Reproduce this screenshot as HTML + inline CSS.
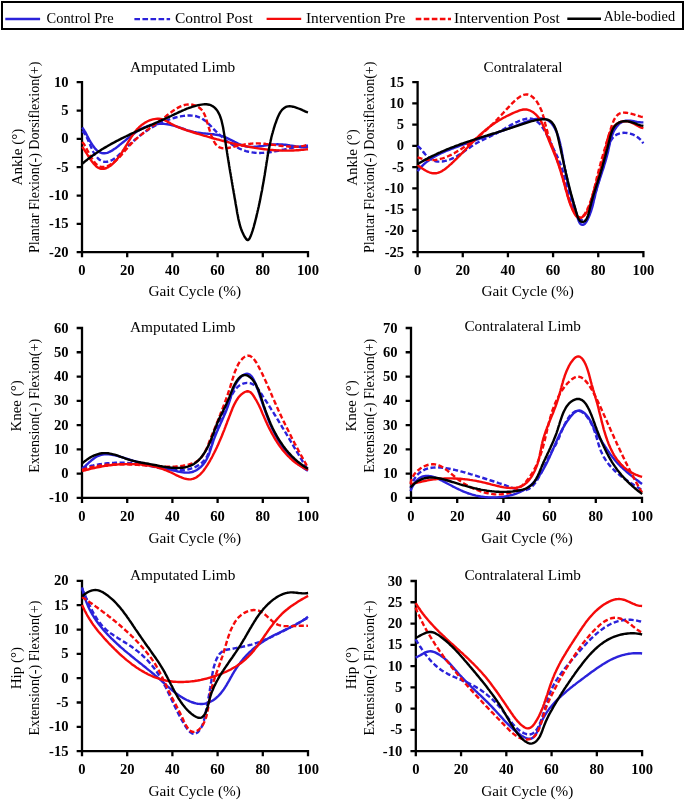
<!DOCTYPE html>
<html><head><meta charset="utf-8"><title>Gait kinematics</title>
<style>
html,body{margin:0;padding:0;background:#fff;}
body{width:685px;height:800px;overflow:hidden;font-family:"Liberation Serif",serif;}
svg{display:block;will-change:transform;}
</style></head><body>
<svg width="685" height="800" viewBox="0 0 685 800" font-family="Liberation Serif, serif" fill="#000">
<g><text x="129.9" y="71.8" font-size="15.3" textLength="105.4" lengthAdjust="spacingAndGlyphs">Amputated Limb</text>
<text x="148.4" y="296.4" font-size="15.3" textLength="92.8" lengthAdjust="spacingAndGlyphs">Gait Cycle (%)</text>
<text transform="translate(21.5,185.5) rotate(-90)" font-size="15.3" textLength="56.8" lengthAdjust="spacingAndGlyphs">Ankle (°)</text>
<text transform="translate(38.9,253.1) rotate(-90)" font-size="14" textLength="191.5" lengthAdjust="spacingAndGlyphs">Plantar Flexion(-) Dorsiflexion(+)</text>
<path d="M82,82.2 V252.2 M82,252.2 H308 M77.8,82.20 H82 M77.8,110.53 H82 M77.8,138.87 H82 M77.8,167.20 H82 M77.8,195.53 H82 M77.8,223.87 H82 M77.8,252.20 H82 M82.00,252.2 V256.2 M127.20,252.2 V256.2 M172.40,252.2 V256.2 M217.60,252.2 V256.2 M262.80,252.2 V256.2 M308.00,252.2 V256.2" stroke="#000" stroke-width="2.3" fill="none" stroke-linecap="square"/>
<g font-size="14.6" font-weight="bold"><text x="68.5" y="86.7" text-anchor="end">10</text><text x="68.5" y="115.0" text-anchor="end">5</text><text x="68.5" y="143.4" text-anchor="end">0</text><text x="68.5" y="171.7" text-anchor="end">-5</text><text x="68.5" y="200.0" text-anchor="end">-10</text><text x="68.5" y="228.4" text-anchor="end">-15</text><text x="68.5" y="256.7" text-anchor="end">-20</text><text x="82.00" y="274.8" text-anchor="middle">0</text><text x="127.20" y="274.8" text-anchor="middle">20</text><text x="172.40" y="274.8" text-anchor="middle">40</text><text x="217.60" y="274.8" text-anchor="middle">60</text><text x="262.80" y="274.8" text-anchor="middle">80</text><text x="308.00" y="274.8" text-anchor="middle">100</text></g>
<path d="M82.2,127.5L83.1,128.8 84.0,130.0 84.8,131.4 85.6,132.7 86.3,134.1 87.0,135.5 87.8,136.9 88.5,138.4 89.3,139.9 90.2,141.4 91.1,143.0 92.1,144.5 93.2,146.1 94.3,147.5 95.4,148.9 96.6,150.1 97.9,151.2 99.2,152.0 100.5,152.7 101.8,153.1 103.1,153.3 104.5,153.3 105.9,153.1 107.2,152.8 108.6,152.3 110.0,151.6 111.4,150.9 112.8,150.1 114.2,149.1 115.6,148.2 117.0,147.1 118.4,146.0 119.7,144.9 121.1,143.8 122.4,142.7 123.7,141.7 125.1,140.6 126.4,139.5 127.7,138.4 129.0,137.4 130.3,136.4 131.5,135.4 132.8,134.4 134.2,133.4 135.5,132.5 136.8,131.6 138.1,130.7 139.5,129.9 140.9,129.1 142.2,128.4 143.7,127.7 145.1,127.1 146.5,126.5 148.0,125.9 149.6,125.5 151.1,125.0 152.7,124.7 154.3,124.4 155.9,124.2 157.5,124.0 159.2,123.9 160.8,123.8 162.5,123.9 164.1,123.9 165.8,124.1 167.4,124.3 169.0,124.6 170.6,124.9 172.2,125.3 173.7,125.7 175.3,126.1 176.8,126.6 178.4,127.1 179.9,127.6 181.4,128.2 183.0,128.7 184.5,129.2 186.0,129.8 187.6,130.3 189.1,130.7 190.7,131.2 192.2,131.6 193.8,132.0 195.4,132.3 197.0,132.6 198.6,132.8 200.2,133.0 201.8,133.2 203.4,133.4 205.0,133.5 206.6,133.6 208.2,133.8 209.8,133.9 211.5,134.1 213.1,134.2 214.7,134.5 216.3,134.7 217.9,135.0 219.5,135.4 221.0,135.8 222.6,136.2 224.1,136.8 225.6,137.4 227.2,138.1 228.7,138.8 230.2,139.6 231.7,140.3 233.2,141.1 234.6,141.9 236.1,142.6 237.6,143.4 239.1,144.1 240.6,144.7 242.2,145.3 243.7,145.8 245.2,146.2 246.8,146.5 248.4,146.7 250.0,146.9 251.6,146.9 253.2,146.9 254.8,146.8 256.4,146.7 258.1,146.5 259.7,146.3 261.3,146.1 263.0,145.9 264.6,145.6 266.3,145.4 267.9,145.1 269.5,144.9 271.1,144.7 272.8,144.5 274.4,144.4 275.9,144.4 277.5,144.3 279.1,144.4 280.7,144.4 282.3,144.5 283.8,144.7 285.4,144.8 287.0,145.0 288.5,145.2 290.1,145.5 291.7,145.7 293.3,146.0 294.9,146.3 296.6,146.6 298.2,146.9 299.8,147.1 301.5,147.3 303.1,147.4 304.8,147.4 306.4,147.2 308.0,146.9" stroke="#2B22DA" stroke-width="2.4" fill="none" stroke-linejoin="round"/>
<path d="M82.2,131.0L83.2,131.9 84.1,132.9 84.9,134.0 85.7,135.3 86.5,136.8 87.2,138.3 88.0,139.9 88.7,141.5 89.4,143.2 90.1,144.9 90.8,146.6 91.6,148.3 92.4,150.0 93.2,151.7 94.0,153.2 95.0,154.7 95.9,156.1 97.0,157.3 98.1,158.5 99.2,159.5 100.4,160.3 101.6,161.0 102.9,161.5 104.3,161.8 105.6,161.9 107.0,161.8 108.4,161.5 109.8,161.0 111.2,160.5 112.6,159.7 114.0,158.9 115.3,157.9 116.6,156.9 117.9,155.8 119.2,154.6 120.5,153.4 121.7,152.1 123.0,150.9 124.2,149.7 125.5,148.5 126.7,147.3 127.9,146.1 129.2,144.9 130.4,143.8 131.6,142.7 132.9,141.6 134.1,140.5 135.3,139.4 136.6,138.4 137.8,137.4 139.1,136.4 140.3,135.4 141.6,134.4 142.8,133.5 144.1,132.6 145.4,131.6 146.7,130.8 148.0,129.9 149.3,129.1 150.6,128.2 151.9,127.4 153.3,126.6 154.6,125.9 156.0,125.1 157.4,124.4 158.8,123.7 160.2,123.1 161.6,122.4 163.1,121.8 164.6,121.2 166.1,120.6 167.6,120.0 169.1,119.5 170.7,118.9 172.2,118.4 173.9,118.0 175.5,117.5 177.1,117.1 178.8,116.7 180.4,116.4 182.1,116.1 183.7,115.9 185.4,115.7 187.0,115.6 188.7,115.5 190.3,115.5 191.9,115.6 193.4,115.8 195.0,116.0 196.5,116.3 198.0,116.8 199.4,117.3 200.8,117.9 202.1,118.6 203.4,119.5 204.7,120.4 205.9,121.3 207.1,122.4 208.3,123.5 209.4,124.6 210.6,125.8 211.7,127.0 212.9,128.2 214.0,129.4 215.2,130.6 216.4,131.8 217.6,133.0 218.8,134.1 220.0,135.2 221.3,136.4 222.5,137.4 223.8,138.5 225.1,139.6 226.4,140.6 227.7,141.6 229.0,142.5 230.3,143.4 231.7,144.3 233.1,145.2 234.5,146.0 235.8,146.8 237.3,147.5 238.7,148.2 240.1,148.9 241.6,149.5 243.0,150.1 244.5,150.6 246.0,151.1 247.5,151.5 249.0,151.9 250.6,152.2 252.1,152.4 253.7,152.6 255.2,152.8 256.8,152.9 258.4,153.0 260.0,153.0 261.6,152.9 263.2,152.9 264.9,152.7 266.5,152.6 268.1,152.4 269.8,152.2 271.4,152.0 273.1,151.7 274.7,151.4 276.4,151.1 278.0,150.8 279.6,150.5 281.3,150.1 282.9,149.8 284.6,149.4 286.2,149.1 287.8,148.8 289.4,148.4 291.0,148.1 292.6,147.8 294.2,147.4 295.8,147.2 297.4,146.9 298.9,146.6 300.5,146.4 302.0,146.2 303.5,146.0 305.0,145.9 306.5,145.8 308.0,145.7" stroke="#2B22DA" stroke-width="2.4" fill="none" stroke-linejoin="round" stroke-dasharray="5.1 2.5"/>
<path d="M82.2,146.9L83.0,147.8 83.7,148.9 84.6,150.2 85.4,151.5 86.4,153.0 87.3,154.5 88.3,156.1 89.3,157.7 90.4,159.3 91.5,160.9 92.6,162.3 93.7,163.7 94.9,165.0 96.1,166.2 97.4,167.2 98.6,167.9 99.9,168.5 101.2,168.8 102.5,168.9 103.8,168.8 105.1,168.5 106.5,168.0 107.8,167.4 109.1,166.6 110.4,165.7 111.7,164.7 112.9,163.6 114.1,162.4 115.3,161.2 116.5,159.8 117.6,158.5 118.6,157.1 119.7,155.8 120.7,154.4 121.6,153.0 122.5,151.5 123.4,150.1 124.3,148.7 125.2,147.2 126.0,145.8 126.9,144.4 127.7,143.0 128.5,141.6 129.4,140.2 130.2,138.8 131.1,137.4 132.0,136.1 132.9,134.7 133.8,133.4 134.7,132.2 135.7,130.9 136.7,129.7 137.8,128.6 138.9,127.5 140.1,126.4 141.3,125.3 142.5,124.4 143.9,123.4 145.2,122.6 146.7,121.8 148.1,121.0 149.6,120.4 151.2,119.8 152.7,119.4 154.3,119.1 155.8,118.9 157.4,118.8 159.0,118.8 160.6,119.0 162.1,119.4 163.7,119.9 165.2,120.5 166.7,121.3 168.2,122.1 169.7,122.9 171.1,123.7 172.6,124.5 174.1,125.3 175.6,126.0 177.1,126.7 178.6,127.3 180.1,127.9 181.6,128.5 183.1,129.0 184.6,129.5 186.1,130.1 187.6,130.6 189.1,131.1 190.7,131.5 192.2,132.0 193.7,132.5 195.3,133.0 196.8,133.5 198.3,133.9 199.9,134.4 201.4,134.9 203.0,135.3 204.5,135.8 206.1,136.2 207.6,136.7 209.2,137.1 210.8,137.6 212.3,138.0 213.9,138.5 215.5,138.9 217.0,139.3 218.6,139.7 220.2,140.2 221.7,140.6 223.3,141.0 224.9,141.4 226.4,141.8 228.0,142.2 229.6,142.6 231.1,143.0 232.7,143.4 234.3,143.7 235.9,144.1 237.4,144.5 239.0,144.8 240.6,145.1 242.2,145.5 243.8,145.8 245.3,146.1 246.9,146.4 248.5,146.8 250.1,147.0 251.7,147.3 253.3,147.6 254.9,147.9 256.4,148.1 258.0,148.4 259.6,148.6 261.2,148.8 262.8,149.0 264.4,149.2 266.0,149.4 267.6,149.6 269.2,149.8 270.8,149.9 272.4,150.0 274.0,150.2 275.6,150.3 277.2,150.4 278.8,150.4 280.4,150.5 282.0,150.6 283.7,150.6 285.3,150.6 286.9,150.6 288.5,150.6 290.1,150.6 291.7,150.5 293.4,150.5 295.0,150.4 296.6,150.3 298.2,150.2 299.9,150.1 301.5,149.9 303.1,149.8 304.7,149.6 306.4,149.4 308.0,149.2" stroke="#F50A0A" stroke-width="2.4" fill="none" stroke-linejoin="round"/>
<path d="M82.2,141.9L83.0,142.9 83.9,144.0 84.7,145.3 85.5,146.6 86.3,148.1 87.1,149.7 87.9,151.2 88.8,152.9 89.6,154.5 90.5,156.1 91.4,157.7 92.4,159.2 93.3,160.7 94.4,162.1 95.4,163.3 96.5,164.4 97.7,165.3 98.9,166.1 100.1,166.6 101.4,166.9 102.8,167.0 104.2,166.9 105.7,166.6 107.2,166.1 108.7,165.5 110.1,164.7 111.6,163.8 113.1,162.8 114.5,161.7 115.9,160.6 117.2,159.4 118.5,158.2 119.7,156.9 120.8,155.7 121.9,154.4 123.0,153.1 124.1,151.9 125.1,150.6 126.1,149.4 127.2,148.1 128.2,146.9 129.3,145.7 130.4,144.6 131.5,143.4 132.6,142.3 133.7,141.2 134.9,140.2 136.0,139.1 137.2,138.1 138.4,137.1 139.6,136.1 140.8,135.1 142.0,134.1 143.2,133.1 144.5,132.2 145.7,131.2 147.0,130.2 148.3,129.3 149.5,128.4 150.8,127.4 152.1,126.5 153.4,125.5 154.7,124.6 156.0,123.6 157.4,122.6 158.7,121.7 160.0,120.7 161.3,119.7 162.7,118.7 164.0,117.7 165.4,116.7 166.7,115.6 168.1,114.6 169.4,113.5 170.8,112.5 172.1,111.5 173.5,110.5 174.9,109.6 176.3,108.7 177.7,107.9 179.1,107.1 180.6,106.4 182.0,105.8 183.5,105.3 184.9,104.9 186.4,104.6 187.9,104.5 189.5,104.4 191.0,104.5 192.5,104.8 194.0,105.1 195.5,105.6 197.0,106.3 198.3,107.0 199.6,107.9 200.8,109.0 201.9,110.1 202.9,111.4 203.7,112.8 204.4,114.3 205.1,115.8 205.7,117.4 206.2,119.0 206.7,120.6 207.1,122.2 207.6,123.7 208.0,125.2 208.5,126.7 209.0,128.2 209.4,129.7 209.9,131.2 210.5,132.8 211.0,134.4 211.6,136.1 212.3,137.8 213.0,139.5 213.8,141.2 214.7,142.7 215.6,144.1 216.7,145.3 217.8,146.3 219.0,147.1 220.3,147.7 221.7,148.0 223.2,148.2 224.7,148.2 226.2,148.2 227.8,148.0 229.5,147.7 231.1,147.4 232.8,147.0 234.4,146.6 236.0,146.2 237.7,145.9 239.3,145.5 240.9,145.2 242.4,144.9 244.0,144.6 245.6,144.3 247.1,144.1 248.7,143.9 250.2,143.8 251.8,143.6 253.3,143.5 254.9,143.5 256.5,143.4 258.0,143.4 259.6,143.5 261.2,143.6 262.8,143.7 264.4,143.8 266.0,144.0 267.6,144.1 269.2,144.3 270.8,144.5 272.4,144.7 274.0,144.9 275.7,145.1 277.3,145.4 278.9,145.6 280.5,145.8 282.2,146.0 283.8,146.1 285.4,146.3 287.1,146.4 288.7,146.5 290.3,146.6 291.9,146.7 293.6,146.7 295.2,146.7 296.8,146.6 298.4,146.5 300.0,146.3 301.6,146.1 303.2,145.9 304.8,145.6 306.4,145.2 308.0,144.7" stroke="#F50A0A" stroke-width="2.4" fill="none" stroke-linejoin="round" stroke-dasharray="5.1 2.5"/>
<path d="M82.2,163.8L83.4,162.7 84.7,161.7 85.9,160.7 87.2,159.7 88.4,158.7 89.7,157.7 91.0,156.8 92.3,155.8 93.6,154.9 94.9,154.0 96.3,153.1 97.6,152.2 98.9,151.3 100.3,150.4 101.6,149.6 103.0,148.7 104.4,147.9 105.8,147.1 107.2,146.3 108.5,145.5 109.9,144.7 111.3,143.9 112.8,143.1 114.2,142.4 115.6,141.6 117.0,140.8 118.5,140.1 119.9,139.4 121.3,138.6 122.8,137.9 124.2,137.2 125.7,136.5 127.1,135.8 128.6,135.1 130.0,134.4 131.5,133.7 133.0,133.0 134.4,132.4 135.9,131.7 137.4,131.0 138.8,130.4 140.3,129.7 141.8,129.0 143.3,128.4 144.7,127.7 146.2,127.1 147.7,126.4 149.1,125.8 150.6,125.1 152.1,124.5 153.6,123.8 155.0,123.2 156.5,122.5 158.0,121.9 159.4,121.2 160.9,120.6 162.3,119.9 163.8,119.3 165.2,118.6 166.7,118.0 168.1,117.3 169.6,116.6 171.0,116.0 172.4,115.3 173.8,114.6 175.3,113.9 176.7,113.3 178.1,112.6 179.5,111.9 181.0,111.3 182.4,110.6 183.9,110.0 185.4,109.3 186.9,108.7 188.4,108.2 190.0,107.6 191.5,107.1 193.1,106.5 194.8,106.1 196.4,105.6 198.1,105.2 199.8,104.9 201.5,104.6 203.2,104.4 204.8,104.3 206.4,104.3 207.9,104.5 209.3,104.7 210.6,105.1 211.8,105.7 213.0,106.4 214.1,107.2 215.1,108.1 216.0,109.1 216.9,110.2 217.7,111.4 218.4,112.6 219.1,114.0 219.8,115.4 220.3,117.0 220.9,118.5 221.4,120.1 221.8,121.8 222.2,123.5 222.6,125.2 223.0,127.0 223.3,128.8 223.6,130.6 223.9,132.4 224.2,134.1 224.5,135.9 224.8,137.7 225.0,139.5 225.3,141.2 225.6,142.9 225.8,144.6 226.1,146.3 226.3,148.0 226.6,149.6 226.9,151.2 227.1,152.9 227.4,154.5 227.6,156.0 227.9,157.6 228.1,159.2 228.4,160.7 228.6,162.3 228.9,163.8 229.1,165.4 229.4,166.9 229.6,168.4 229.9,169.9 230.1,171.4 230.4,172.9 230.7,174.4 230.9,175.9 231.2,177.4 231.4,178.9 231.7,180.4 231.9,181.9 232.2,183.4 232.4,184.9 232.7,186.4 232.9,187.9 233.2,189.4 233.5,190.9 233.7,192.5 234.0,194.0 234.3,195.6 234.5,197.1 234.8,198.7 235.1,200.3 235.4,201.9 235.6,203.5 235.9,205.1 236.2,206.7 236.5,208.4 236.8,210.0 237.0,211.7 237.3,213.4 237.7,215.1 238.0,216.8 238.3,218.5 238.7,220.2 239.1,221.8 239.5,223.5 239.9,225.2 240.4,226.8 240.9,228.4 241.5,230.0 242.1,231.5 242.8,233.0 243.5,234.5 244.2,235.9 245.0,237.3 245.9,238.6 246.8,239.6 247.7,240.1 248.5,239.8 249.4,238.8 250.1,237.4 250.8,235.7 251.5,233.9 252.1,232.2 252.7,230.4 253.2,228.7 253.7,227.1 254.1,225.4 254.6,223.7 255.0,222.1 255.4,220.5 255.8,219.0 256.2,217.4 256.6,215.9 256.9,214.3 257.3,212.8 257.6,211.3 258.0,209.8 258.3,208.3 258.7,206.7 259.0,205.2 259.3,203.7 259.7,202.1 260.0,200.5 260.3,199.0 260.6,197.4 260.9,195.8 261.2,194.2 261.5,192.6 261.9,191.0 262.2,189.4 262.4,187.8 262.7,186.2 263.0,184.6 263.3,183.0 263.6,181.4 263.9,179.8 264.1,178.2 264.4,176.6 264.7,175.0 264.9,173.4 265.2,171.8 265.4,170.2 265.7,168.6 265.9,167.0 266.2,165.5 266.4,163.9 266.7,162.3 266.9,160.8 267.2,159.2 267.4,157.6 267.7,156.1 267.9,154.5 268.2,152.9 268.5,151.4 268.8,149.8 269.1,148.2 269.4,146.7 269.7,145.1 270.0,143.6 270.4,142.0 270.7,140.4 271.1,138.9 271.4,137.3 271.8,135.7 272.2,134.2 272.7,132.6 273.1,131.0 273.6,129.4 274.0,127.9 274.5,126.3 275.0,124.7 275.6,123.1 276.2,121.5 276.7,119.9 277.4,118.3 278.0,116.7 278.7,115.2 279.4,113.8 280.2,112.4 281.1,111.1 282.0,109.9 283.1,108.9 284.2,108.0 285.4,107.2 286.7,106.7 288.1,106.4 289.6,106.2 291.3,106.4 293.0,106.7 294.8,107.2 296.7,107.8 298.5,108.5 300.3,109.2 302.0,109.9 303.6,110.7 305.0,111.3 306.2,111.8 307.2,112.2 308.0,112.4" stroke="#000" stroke-width="2.4" fill="none" stroke-linejoin="round"/></g>
<g><text x="483.6" y="71.8" font-size="15.3" textLength="78.9" lengthAdjust="spacingAndGlyphs">Contralateral</text>
<text x="481.6" y="296.4" font-size="15.3" textLength="92.3" lengthAdjust="spacingAndGlyphs">Gait Cycle (%)</text>
<text transform="translate(356.5,185.8) rotate(-90)" font-size="15.3" textLength="56.6" lengthAdjust="spacingAndGlyphs">Ankle (°)</text>
<text transform="translate(374.0,253.1) rotate(-90)" font-size="14" textLength="191.5" lengthAdjust="spacingAndGlyphs">Plantar Flexion(-) Dorsiflexion(+)</text>
<path d="M417.6,82.2 V252.2 M417.6,252.2 H643.4 M413.4,82.20 H417.6 M413.4,103.45 H417.6 M413.4,124.70 H417.6 M413.4,145.95 H417.6 M413.4,167.20 H417.6 M413.4,188.45 H417.6 M413.4,209.70 H417.6 M413.4,230.95 H417.6 M413.4,252.20 H417.6 M417.60,252.2 V256.2 M462.76,252.2 V256.2 M507.92,252.2 V256.2 M553.08,252.2 V256.2 M598.24,252.2 V256.2 M643.40,252.2 V256.2" stroke="#000" stroke-width="2.3" fill="none" stroke-linecap="square"/>
<g font-size="14.6" font-weight="bold"><text x="404.1" y="86.7" text-anchor="end">15</text><text x="404.1" y="108.0" text-anchor="end">10</text><text x="404.1" y="129.2" text-anchor="end">5</text><text x="404.1" y="150.4" text-anchor="end">0</text><text x="404.1" y="171.7" text-anchor="end">-5</text><text x="404.1" y="192.9" text-anchor="end">-10</text><text x="404.1" y="214.2" text-anchor="end">-15</text><text x="404.1" y="235.4" text-anchor="end">-20</text><text x="404.1" y="256.7" text-anchor="end">-25</text><text x="417.60" y="274.8" text-anchor="middle">0</text><text x="462.76" y="274.8" text-anchor="middle">20</text><text x="507.92" y="274.8" text-anchor="middle">40</text><text x="553.08" y="274.8" text-anchor="middle">60</text><text x="598.24" y="274.8" text-anchor="middle">80</text><text x="643.40" y="274.8" text-anchor="middle">100</text></g>
<path d="M417.6,171.2L418.6,169.9 419.6,168.7 420.6,167.5 421.7,166.4 422.8,165.3 424.0,164.2 425.2,163.1 426.4,162.1 427.6,161.2 428.9,160.2 430.3,159.3 431.6,158.5 433.0,157.6 434.4,156.8 435.8,156.0 437.2,155.2 438.7,154.5 440.2,153.7 441.6,153.0 443.1,152.3 444.6,151.7 446.2,151.0 447.7,150.4 449.2,149.8 450.8,149.1 452.3,148.5 453.8,148.0 455.4,147.4 456.9,146.8 458.4,146.3 459.9,145.7 461.5,145.2 463.0,144.6 464.5,144.1 466.0,143.6 467.4,143.0 468.9,142.5 470.4,142.0 471.9,141.5 473.3,141.0 474.8,140.5 476.3,139.9 477.7,139.4 479.2,138.9 480.7,138.4 482.1,137.9 483.6,137.4 485.0,136.9 486.5,136.4 488.0,135.9 489.4,135.4 490.9,134.9 492.4,134.3 493.9,133.8 495.3,133.3 496.8,132.8 498.3,132.2 499.8,131.7 501.3,131.2 502.8,130.6 504.4,130.1 505.9,129.5 507.4,128.9 509.0,128.4 510.5,127.8 512.1,127.2 513.7,126.6 515.3,126.0 516.9,125.4 518.5,124.8 520.1,124.1 521.7,123.5 523.4,122.9 525.0,122.2 526.7,121.6 528.3,121.0 530.0,120.5 531.6,120.0 533.2,119.6 534.8,119.2 536.4,118.9 537.9,118.6 539.4,118.5 540.9,118.4 542.4,118.5 543.7,118.7 545.1,119.0 546.4,119.5 547.6,120.1 548.8,120.8 549.9,121.7 551.0,122.8 552.0,123.9 552.9,125.2 553.8,126.6 554.7,128.1 555.4,129.6 556.2,131.2 556.8,132.8 557.5,134.4 558.1,136.1 558.6,137.7 559.1,139.4 559.5,141.0 559.9,142.6 560.3,144.1 560.6,145.7 561.0,147.2 561.3,148.8 561.6,150.3 561.8,151.8 562.1,153.4 562.4,154.9 562.6,156.4 562.9,158.0 563.2,159.5 563.5,161.1 563.7,162.7 564.0,164.3 564.3,165.9 564.6,167.5 564.9,169.0 565.3,170.6 565.6,172.2 565.9,173.8 566.2,175.4 566.6,177.0 566.9,178.6 567.3,180.2 567.6,181.8 568.0,183.4 568.3,185.0 568.7,186.5 569.1,188.1 569.5,189.6 569.9,191.2 570.3,192.7 570.7,194.2 571.1,195.7 571.5,197.2 572.0,198.6 572.4,200.1 572.9,201.6 573.3,203.0 573.8,204.5 574.3,206.1 574.8,207.7 575.3,209.4 575.8,211.2 576.3,213.1 576.8,215.1 577.4,217.1 578.0,219.0 578.6,220.7 579.3,222.3 580.1,223.5 581.0,224.3 581.9,224.7 582.9,224.8 583.9,224.4 584.9,223.7 585.8,222.5 586.7,221.2 587.6,219.6 588.3,218.0 589.1,216.4 589.7,214.8 590.3,213.2 590.9,211.6 591.4,210.0 591.9,208.4 592.4,206.7 592.8,205.1 593.2,203.5 593.6,201.9 593.9,200.3 594.3,198.7 594.7,197.2 595.1,195.6 595.4,194.0 595.8,192.4 596.3,190.9 596.7,189.3 597.1,187.8 597.6,186.3 598.0,184.7 598.5,183.2 599.0,181.7 599.5,180.1 599.9,178.6 600.4,177.1 600.9,175.6 601.4,174.1 601.9,172.6 602.4,171.0 602.9,169.5 603.4,168.0 603.9,166.5 604.3,165.0 604.8,163.4 605.3,161.9 605.7,160.4 606.2,158.8 606.6,157.3 607.0,155.7 607.4,154.2 607.8,152.6 608.2,151.0 608.5,149.4 608.8,147.9 609.2,146.3 609.5,144.7 609.9,143.1 610.2,141.5 610.6,139.9 611.1,138.4 611.6,136.8 612.1,135.3 612.7,133.8 613.3,132.3 614.1,130.8 614.9,129.3 615.8,128.0 616.7,126.6 617.8,125.4 618.9,124.2 620.1,123.2 621.4,122.4 622.7,121.7 624.2,121.1 625.7,120.8 627.2,120.6 628.8,120.7 630.5,120.8 632.1,121.0 633.8,121.3 635.5,121.6 637.1,121.9 638.8,122.1 640.4,122.3 641.9,122.4 643.4,122.4" stroke="#2B22DA" stroke-width="2.4" fill="none" stroke-linejoin="round"/>
<path d="M417.6,145.8L418.7,146.8 419.8,147.8 420.9,149.0 422.0,150.3 423.0,151.6 424.1,152.9 425.2,154.2 426.4,155.5 427.5,156.7 428.7,157.8 430.0,158.8 431.3,159.6 432.7,160.3 434.2,160.9 435.7,161.2 437.2,161.5 438.8,161.6 440.4,161.6 442.0,161.5 443.6,161.3 445.2,160.9 446.8,160.5 448.4,160.1 449.9,159.5 451.5,158.9 453.0,158.2 454.4,157.5 455.8,156.8 457.2,156.0 458.6,155.1 460.0,154.3 461.3,153.4 462.7,152.5 464.0,151.6 465.3,150.6 466.6,149.7 467.9,148.8 469.2,147.9 470.6,146.9 471.9,146.1 473.2,145.2 474.6,144.3 475.9,143.5 477.3,142.7 478.7,142.0 480.1,141.3 481.5,140.5 483.0,139.8 484.4,139.2 485.8,138.5 487.3,137.8 488.7,137.1 490.2,136.4 491.6,135.7 493.1,135.0 494.5,134.3 496.0,133.6 497.4,132.8 498.8,132.0 500.2,131.2 501.7,130.4 503.1,129.5 504.5,128.7 505.9,127.9 507.3,127.0 508.8,126.2 510.2,125.4 511.6,124.6 513.1,123.9 514.5,123.1 516.0,122.4 517.5,121.8 518.9,121.1 520.4,120.5 521.9,120.0 523.5,119.5 525.0,119.1 526.6,118.7 528.1,118.5 529.6,118.5 531.1,118.6 532.6,119.0 533.9,119.5 535.3,120.2 536.6,121.1 537.8,122.1 538.9,123.1 540.0,124.2 541.0,125.4 542.0,126.7 542.9,128.0 543.8,129.4 544.6,130.8 545.4,132.2 546.2,133.6 546.9,135.1 547.7,136.6 548.4,138.1 549.1,139.6 549.8,141.1 550.5,142.6 551.2,144.1 551.9,145.6 552.6,147.1 553.4,148.5 554.1,150.0 554.8,151.4 555.5,152.9 556.2,154.3 556.9,155.7 557.5,157.1 558.2,158.6 558.8,160.0 559.4,161.4 560.0,162.9 560.5,164.3 561.0,165.8 561.5,167.2 562.0,168.7 562.5,170.2 563.0,171.7 563.4,173.2 563.8,174.8 564.3,176.3 564.7,177.9 565.0,179.5 565.4,181.1 565.8,182.7 566.2,184.3 566.5,186.0 566.9,187.6 567.3,189.3 567.7,191.0 568.1,192.6 568.5,194.3 568.9,195.9 569.3,197.6 569.8,199.2 570.3,200.8 570.8,202.4 571.3,204.0 571.9,205.5 572.5,207.0 573.2,208.5 573.9,210.0 574.6,211.4 575.4,212.8 576.2,214.1 577.1,215.4 578.1,216.6 579.1,217.8 580.1,218.9 581.2,219.8 582.2,220.5 583.3,220.9 584.3,220.9 585.3,220.5 586.3,219.6 587.1,218.4 587.9,216.8 588.7,215.1 589.4,213.2 590.1,211.3 590.7,209.4 591.3,207.5 591.8,205.7 592.4,204.0 592.9,202.3 593.3,200.6 593.8,198.9 594.2,197.3 594.7,195.7 595.1,194.2 595.5,192.6 595.9,191.1 596.3,189.6 596.8,188.1 597.2,186.6 597.6,185.2 598.0,183.7 598.4,182.2 598.8,180.8 599.2,179.3 599.7,177.9 600.1,176.4 600.5,175.0 600.9,173.5 601.3,172.0 601.7,170.6 602.2,169.1 602.6,167.6 603.0,166.0 603.4,164.5 603.9,163.0 604.3,161.4 604.7,159.8 605.2,158.2 605.6,156.5 606.1,154.9 606.5,153.2 607.0,151.4 607.5,149.7 608.0,148.0 608.5,146.3 609.1,144.6 609.7,143.0 610.4,141.5 611.2,140.1 612.1,138.8 613.0,137.5 614.1,136.5 615.2,135.5 616.5,134.7 617.8,134.1 619.2,133.6 620.7,133.2 622.2,133.0 623.8,132.8 625.3,132.9 626.9,133.0 628.5,133.3 630.1,133.6 631.7,134.1 633.3,134.7 634.8,135.5 636.2,136.3 637.6,137.2 639.0,138.3 640.2,139.4 641.4,140.6 642.4,142.0 643.3,143.4" stroke="#2B22DA" stroke-width="2.4" fill="none" stroke-linejoin="round" stroke-dasharray="5.1 2.5"/>
<path d="M417.6,165.0L418.7,165.9 419.9,166.8 421.2,167.8 422.6,168.7 424.0,169.6 425.5,170.5 427.0,171.3 428.5,172.0 430.1,172.6 431.6,173.0 433.1,173.3 434.6,173.3 436.1,173.2 437.6,172.9 439.0,172.5 440.4,171.9 441.8,171.2 443.1,170.3 444.5,169.4 445.8,168.5 447.1,167.4 448.4,166.3 449.6,165.2 450.9,164.1 452.1,163.0 453.3,161.8 454.5,160.7 455.7,159.5 456.9,158.4 458.0,157.2 459.2,156.1 460.3,154.9 461.5,153.7 462.6,152.6 463.7,151.4 464.8,150.3 465.9,149.1 467.0,148.0 468.1,146.8 469.2,145.6 470.3,144.5 471.5,143.4 472.6,142.2 473.7,141.1 474.8,140.0 475.9,138.9 477.0,137.8 478.2,136.7 479.3,135.6 480.5,134.5 481.7,133.4 482.8,132.4 484.0,131.3 485.2,130.3 486.5,129.3 487.7,128.3 489.0,127.3 490.2,126.3 491.5,125.4 492.8,124.4 494.2,123.5 495.5,122.6 496.9,121.7 498.3,120.8 499.7,120.0 501.1,119.2 502.6,118.3 504.0,117.5 505.5,116.8 506.9,116.0 508.4,115.3 509.9,114.6 511.4,113.9 512.9,113.2 514.4,112.5 515.9,111.9 517.5,111.3 519.0,110.7 520.5,110.2 522.0,109.8 523.5,109.5 525.1,109.4 526.6,109.5 528.0,109.8 529.5,110.3 530.9,111.0 532.3,111.7 533.6,112.6 534.8,113.6 536.0,114.7 537.1,115.8 538.1,117.0 539.0,118.3 539.9,119.6 540.8,120.9 541.6,122.4 542.3,123.8 543.0,125.3 543.7,126.8 544.3,128.3 545.0,129.9 545.6,131.4 546.2,133.0 546.8,134.6 547.3,136.1 547.9,137.7 548.5,139.2 549.1,140.8 549.7,142.3 550.3,143.8 550.9,145.3 551.5,146.8 552.2,148.3 552.8,149.8 553.4,151.3 554.0,152.7 554.6,154.2 555.2,155.7 555.8,157.1 556.3,158.6 556.9,160.1 557.4,161.6 557.9,163.0 558.5,164.5 559.0,166.0 559.5,167.5 559.9,169.0 560.4,170.5 560.9,172.1 561.3,173.6 561.8,175.1 562.2,176.6 562.7,178.2 563.1,179.7 563.5,181.2 564.0,182.8 564.4,184.4 564.8,185.9 565.3,187.5 565.7,189.1 566.1,190.6 566.6,192.2 567.0,193.8 567.5,195.4 567.9,197.0 568.4,198.7 568.9,200.3 569.4,201.9 570.0,203.6 570.6,205.2 571.3,206.9 572.0,208.6 572.7,210.3 573.6,212.0 574.5,213.6 575.4,215.1 576.4,216.4 577.5,217.3 578.6,217.8 579.7,218.0 580.8,217.8 581.9,217.3 583.0,216.6 584.1,215.6 585.1,214.5 586.0,213.2 586.9,211.8 587.7,210.4 588.4,208.8 589.0,207.2 589.6,205.6 590.2,203.9 590.7,202.2 591.2,200.4 591.7,198.7 592.1,197.0 592.6,195.3 593.0,193.6 593.5,192.0 594.0,190.4 594.4,188.8 594.9,187.2 595.4,185.6 595.8,184.1 596.3,182.6 596.8,181.1 597.2,179.6 597.7,178.1 598.2,176.6 598.6,175.2 599.1,173.7 599.5,172.3 600.0,170.8 600.4,169.3 600.8,167.9 601.3,166.4 601.7,164.9 602.1,163.4 602.5,161.9 602.9,160.4 603.3,158.9 603.7,157.3 604.1,155.8 604.4,154.2 604.8,152.6 605.1,150.9 605.5,149.3 605.8,147.6 606.1,145.9 606.5,144.2 606.8,142.5 607.2,140.8 607.7,139.2 608.1,137.5 608.7,135.9 609.2,134.4 609.9,132.8 610.6,131.4 611.3,130.0 612.2,128.6 613.1,127.4 614.2,126.2 615.3,125.2 616.5,124.2 617.7,123.3 619.0,122.6 620.4,122.0 621.8,121.6 623.3,121.3 624.8,121.1 626.4,121.2 627.9,121.4 629.5,121.8 631.1,122.4 632.7,123.2 634.4,124.0 636.0,124.9 637.5,125.8 639.1,126.6 640.6,127.3 642.0,127.9 643.4,128.2" stroke="#F50A0A" stroke-width="2.4" fill="none" stroke-linejoin="round"/>
<path d="M417.6,157.1L419.2,157.8 420.9,158.4 422.5,158.9 424.1,159.4 425.7,159.7 427.3,159.9 428.9,160.1 430.4,160.2 432.0,160.2 433.5,160.1 435.1,160.0 436.6,159.8 438.1,159.5 439.7,159.1 441.2,158.7 442.7,158.3 444.1,157.8 445.6,157.2 447.1,156.6 448.6,156.0 450.0,155.3 451.5,154.6 452.9,153.8 454.3,153.1 455.7,152.3 457.1,151.4 458.6,150.6 460.0,149.7 461.3,148.9 462.7,148.0 464.1,147.1 465.5,146.2 466.8,145.3 468.2,144.3 469.5,143.4 470.8,142.4 472.1,141.5 473.5,140.5 474.8,139.5 476.0,138.5 477.3,137.5 478.6,136.5 479.8,135.5 481.1,134.4 482.3,133.4 483.5,132.4 484.7,131.3 485.9,130.3 487.1,129.2 488.3,128.1 489.4,127.1 490.5,126.0 491.7,124.9 492.8,123.9 493.9,122.8 495.0,121.7 496.0,120.6 497.1,119.5 498.1,118.4 499.2,117.3 500.2,116.2 501.3,115.1 502.3,113.9 503.4,112.8 504.5,111.6 505.6,110.4 506.7,109.1 507.9,107.9 509.1,106.6 510.3,105.2 511.6,103.9 512.9,102.6 514.2,101.3 515.5,100.1 516.9,99.0 518.2,97.9 519.6,97.0 521.0,96.1 522.3,95.5 523.7,94.9 525.0,94.6 526.3,94.5 527.7,94.5 528.9,94.8 530.2,95.4 531.4,96.1 532.6,97.0 533.8,98.1 534.9,99.2 536.0,100.5 537.0,101.9 537.9,103.4 538.8,104.9 539.6,106.4 540.3,107.9 541.0,109.4 541.6,110.9 542.1,112.5 542.7,114.0 543.1,115.6 543.6,117.1 544.0,118.7 544.4,120.2 544.8,121.8 545.1,123.3 545.5,124.9 545.9,126.4 546.3,127.9 546.7,129.5 547.2,131.0 547.6,132.5 548.1,134.1 548.6,135.6 549.1,137.1 549.6,138.6 550.1,140.1 550.6,141.6 551.2,143.2 551.7,144.7 552.3,146.2 552.8,147.7 553.4,149.2 553.9,150.7 554.5,152.3 555.0,153.8 555.5,155.3 556.1,156.8 556.6,158.4 557.1,159.9 557.7,161.4 558.2,163.0 558.7,164.5 559.2,166.1 559.7,167.6 560.2,169.1 560.7,170.7 561.1,172.2 561.6,173.7 562.1,175.3 562.5,176.8 563.0,178.3 563.4,179.8 563.8,181.3 564.2,182.8 564.6,184.3 565.0,185.8 565.4,187.3 565.8,188.9 566.2,190.4 566.7,191.9 567.1,193.4 567.5,195.0 568.0,196.5 568.5,198.1 569.0,199.7 569.6,201.3 570.2,203.0 570.8,204.6 571.5,206.3 572.2,208.1 573.0,209.8 573.9,211.5 574.8,213.1 575.7,214.5 576.7,215.7 577.8,216.6 578.9,217.1 580.0,217.3 581.1,217.2 582.2,216.7 583.2,215.9 584.2,214.8 585.1,213.4 585.9,212.0 586.7,210.4 587.5,208.8 588.2,207.3 588.9,205.7 589.5,204.1 590.1,202.5 590.7,200.9 591.2,199.3 591.8,197.7 592.2,196.1 592.7,194.5 593.2,192.9 593.6,191.3 594.0,189.7 594.4,188.1 594.8,186.5 595.2,184.9 595.5,183.3 595.9,181.7 596.3,180.2 596.6,178.6 597.0,177.1 597.4,175.5 597.8,174.0 598.2,172.5 598.6,171.0 599.0,169.4 599.3,167.9 599.7,166.4 600.2,164.9 600.6,163.4 601.0,161.9 601.4,160.4 601.8,158.9 602.2,157.4 602.7,155.9 603.1,154.4 603.5,152.9 604.0,151.4 604.4,149.9 604.9,148.3 605.3,146.8 605.8,145.3 606.2,143.7 606.7,142.2 607.2,140.6 607.7,139.0 608.2,137.4 608.6,135.8 609.1,134.2 609.6,132.6 610.2,130.9 610.7,129.2 611.2,127.6 611.7,125.9 612.3,124.2 612.9,122.6 613.5,121.1 614.2,119.6 615.0,118.2 615.8,117.0 616.7,115.8 617.7,114.8 618.8,114.0 620.0,113.3 621.3,112.9 622.7,112.7 624.2,112.6 625.8,112.7 627.5,112.9 629.2,113.3 630.9,113.7 632.6,114.2 634.4,114.7 636.0,115.2 637.7,115.7 639.3,116.2 640.7,116.6 642.1,116.9 643.4,117.1" stroke="#F50A0A" stroke-width="2.4" fill="none" stroke-linejoin="round" stroke-dasharray="5.1 2.5"/>
<path d="M417.6,164.2L419.0,163.3 420.3,162.5 421.7,161.7 423.1,160.9 424.5,160.1 425.9,159.3 427.4,158.6 428.8,157.8 430.2,157.1 431.6,156.4 433.1,155.7 434.5,155.0 436.0,154.3 437.4,153.6 438.9,152.9 440.4,152.3 441.8,151.6 443.3,151.0 444.8,150.4 446.2,149.7 447.7,149.1 449.2,148.5 450.7,147.9 452.2,147.3 453.7,146.8 455.2,146.2 456.7,145.6 458.2,145.1 459.7,144.5 461.2,144.0 462.8,143.5 464.3,142.9 465.8,142.4 467.3,141.9 468.9,141.4 470.4,140.9 471.9,140.3 473.4,139.8 475.0,139.3 476.5,138.9 478.0,138.4 479.6,137.9 481.1,137.4 482.7,136.9 484.2,136.4 485.7,135.9 487.3,135.5 488.8,135.0 490.4,134.5 491.9,134.0 493.4,133.5 495.0,133.1 496.5,132.6 498.1,132.1 499.6,131.6 501.1,131.1 502.7,130.7 504.2,130.2 505.7,129.7 507.3,129.2 508.8,128.7 510.3,128.2 511.9,127.7 513.4,127.2 514.9,126.7 516.5,126.2 518.0,125.7 519.5,125.2 521.0,124.7 522.5,124.1 524.1,123.6 525.6,123.1 527.1,122.6 528.6,122.1 530.2,121.6 531.7,121.2 533.3,120.8 534.8,120.4 536.4,120.1 538.0,119.8 539.6,119.6 541.3,119.4 542.9,119.3 544.5,119.3 546.0,119.4 547.5,119.7 548.9,120.2 550.1,120.9 551.3,121.8 552.3,122.9 553.2,124.1 554.1,125.5 554.8,126.9 555.5,128.5 556.1,130.2 556.7,131.9 557.2,133.7 557.6,135.4 558.0,137.2 558.4,139.0 558.8,140.7 559.2,142.4 559.5,144.0 559.9,145.6 560.2,147.2 560.6,148.7 560.9,150.2 561.2,151.7 561.5,153.2 561.9,154.7 562.2,156.1 562.5,157.6 562.8,159.1 563.1,160.5 563.5,162.0 563.8,163.6 564.1,165.1 564.5,166.6 564.8,168.2 565.2,169.8 565.6,171.4 565.9,173.0 566.3,174.6 566.7,176.2 567.1,177.8 567.5,179.4 567.8,181.0 568.2,182.6 568.6,184.2 569.0,185.8 569.4,187.4 569.8,189.0 570.2,190.6 570.6,192.1 571.0,193.7 571.4,195.2 571.9,196.7 572.3,198.2 572.7,199.6 573.1,201.1 573.5,202.6 573.9,204.1 574.4,205.6 574.8,207.2 575.3,208.9 575.8,210.7 576.4,212.7 577.0,214.7 577.6,216.6 578.3,218.3 579.1,219.8 580.0,220.9 581.0,221.6 582.1,221.9 583.1,221.9 584.1,221.5 585.1,220.9 586.0,219.9 586.8,218.6 587.5,217.1 588.1,215.4 588.6,213.6 589.1,211.7 589.6,209.8 590.0,207.8 590.5,205.9 591.0,204.1 591.4,202.3 591.9,200.6 592.4,198.9 592.8,197.3 593.3,195.7 593.8,194.1 594.3,192.6 594.7,191.1 595.2,189.6 595.7,188.1 596.2,186.7 596.6,185.2 597.1,183.8 597.6,182.4 598.0,180.9 598.5,179.5 599.0,178.0 599.4,176.6 599.9,175.1 600.3,173.6 600.8,172.1 601.2,170.6 601.7,169.1 602.1,167.6 602.6,166.0 603.0,164.5 603.4,162.9 603.9,161.4 604.3,159.8 604.7,158.2 605.2,156.6 605.6,155.0 606.0,153.4 606.4,151.9 606.8,150.2 607.3,148.6 607.7,147.0 608.1,145.4 608.5,143.8 608.9,142.2 609.3,140.6 609.7,139.0 610.1,137.3 610.5,135.7 611.0,134.2 611.5,132.6 612.0,131.1 612.6,129.6 613.3,128.3 614.1,127.0 615.0,125.8 616.0,124.7 617.2,123.7 618.5,122.9 620.0,122.2 621.5,121.7 623.1,121.3 624.7,121.2 626.3,121.2 627.9,121.4 629.5,121.7 631.1,122.1 632.7,122.6 634.3,123.1 635.9,123.7 637.4,124.3 638.9,124.8 640.5,125.3 641.9,125.6 643.4,125.9" stroke="#000" stroke-width="2.4" fill="none" stroke-linejoin="round"/></g>
<g><text x="130.0" y="331.7" font-size="15.3" textLength="105.4" lengthAdjust="spacingAndGlyphs">Amputated Limb</text>
<text x="148.4" y="543.3" font-size="15.3" textLength="92.8" lengthAdjust="spacingAndGlyphs">Gait Cycle (%)</text>
<text transform="translate(21.2,431.5) rotate(-90)" font-size="15.3" textLength="51.1" lengthAdjust="spacingAndGlyphs">Knee (°)</text>
<text transform="translate(38.5,472.8) rotate(-90)" font-size="14" textLength="133.9" lengthAdjust="spacingAndGlyphs">Extension(-) Flexion(+)</text>
<path d="M82,328.0 V497.9 M82,497.9 H308 M77.8,328.00 H82 M77.8,352.27 H82 M77.8,376.54 H82 M77.8,400.81 H82 M77.8,425.09 H82 M77.8,449.36 H82 M77.8,473.63 H82 M77.8,497.90 H82 M82.00,497.9 V501.9 M127.20,497.9 V501.9 M172.40,497.9 V501.9 M217.60,497.9 V501.9 M262.80,497.9 V501.9 M308.00,497.9 V501.9" stroke="#000" stroke-width="2.3" fill="none" stroke-linecap="square"/>
<g font-size="14.6" font-weight="bold"><text x="68.5" y="332.5" text-anchor="end">60</text><text x="68.5" y="356.8" text-anchor="end">50</text><text x="68.5" y="381.0" text-anchor="end">40</text><text x="68.5" y="405.3" text-anchor="end">30</text><text x="68.5" y="429.6" text-anchor="end">20</text><text x="68.5" y="453.9" text-anchor="end">10</text><text x="68.5" y="478.1" text-anchor="end">0</text><text x="68.5" y="502.4" text-anchor="end">-10</text><text x="82.00" y="520.5" text-anchor="middle">0</text><text x="127.20" y="520.5" text-anchor="middle">20</text><text x="172.40" y="520.5" text-anchor="middle">40</text><text x="217.60" y="520.5" text-anchor="middle">60</text><text x="262.80" y="520.5" text-anchor="middle">80</text><text x="308.00" y="520.5" text-anchor="middle">100</text></g>
<path d="M82.1,469.0L83.3,468.0 84.4,467.0 85.5,465.9 86.7,464.7 87.9,463.6 89.1,462.4 90.4,461.3 91.6,460.2 92.9,459.2 94.2,458.2 95.6,457.3 96.9,456.5 98.3,455.9 99.8,455.3 101.2,454.9 102.7,454.6 104.2,454.4 105.7,454.3 107.3,454.3 108.8,454.4 110.4,454.6 112.0,454.8 113.6,455.1 115.2,455.4 116.8,455.8 118.4,456.2 120.0,456.7 121.6,457.2 123.2,457.7 124.9,458.2 126.5,458.7 128.1,459.2 129.7,459.7 131.2,460.2 132.8,460.6 134.4,461.1 135.9,461.5 137.5,461.9 139.0,462.3 140.6,462.7 142.1,463.1 143.6,463.4 145.1,463.8 146.7,464.2 148.2,464.5 149.7,464.8 151.2,465.2 152.7,465.5 154.3,465.9 155.8,466.2 157.3,466.5 158.8,466.9 160.4,467.2 161.9,467.6 163.5,467.9 165.0,468.3 166.6,468.7 168.2,469.1 169.8,469.5 171.4,469.9 173.0,470.3 174.6,470.7 176.3,471.1 177.9,471.5 179.5,471.8 181.1,472.1 182.7,472.4 184.3,472.5 185.9,472.6 187.5,472.6 189.1,472.5 190.6,472.3 192.1,472.0 193.6,471.5 195.0,470.9 196.4,470.2 197.8,469.3 199.1,468.3 200.4,467.3 201.6,466.1 202.7,464.9 203.8,463.6 204.8,462.3 205.7,460.9 206.5,459.5 207.2,458.1 207.9,456.6 208.6,455.2 209.2,453.7 209.7,452.2 210.2,450.6 210.7,449.1 211.2,447.6 211.7,446.0 212.2,444.5 212.7,443.0 213.2,441.4 213.7,439.9 214.3,438.4 214.9,436.9 215.5,435.4 216.1,433.9 216.7,432.4 217.3,430.9 218.0,429.4 218.6,427.9 219.3,426.4 220.0,424.9 220.6,423.5 221.3,422.0 222.0,420.5 222.6,419.1 223.3,417.6 223.9,416.1 224.5,414.7 225.2,413.2 225.8,411.8 226.4,410.3 226.9,408.8 227.5,407.4 228.0,405.9 228.5,404.4 229.0,402.9 229.5,401.4 230.0,399.9 230.4,398.3 230.9,396.7 231.4,395.0 231.9,393.4 232.4,391.7 233.0,390.0 233.7,388.4 234.4,386.7 235.2,385.1 236.1,383.5 237.0,381.9 238.0,380.5 239.0,379.1 240.1,377.8 241.3,376.7 242.4,375.7 243.6,374.9 244.7,374.3 245.9,373.9 247.0,373.8 248.1,373.9 249.2,374.3 250.3,375.0 251.3,376.0 252.3,377.3 253.2,378.7 254.0,380.3 254.8,382.0 255.5,383.6 256.2,385.3 256.8,386.9 257.4,388.5 258.0,390.2 258.5,391.8 259.1,393.4 259.6,395.0 260.1,396.6 260.7,398.2 261.2,399.8 261.8,401.4 262.3,403.0 262.9,404.6 263.4,406.2 264.0,407.7 264.5,409.3 265.1,410.8 265.6,412.4 266.2,413.9 266.8,415.5 267.4,417.0 267.9,418.5 268.5,420.0 269.1,421.5 269.7,423.0 270.4,424.5 271.0,426.0 271.7,427.4 272.3,428.9 273.0,430.3 273.7,431.7 274.4,433.2 275.1,434.6 275.8,436.0 276.5,437.3 277.3,438.7 278.1,440.1 278.9,441.4 279.7,442.7 280.5,444.1 281.4,445.4 282.2,446.6 283.1,447.9 284.1,449.2 285.0,450.4 286.0,451.7 286.9,452.9 288.0,454.1 289.0,455.2 290.1,456.4 291.1,457.6 292.3,458.7 293.4,459.8 294.6,460.9 295.8,462.0 297.0,463.0 298.3,464.1 299.6,465.1 300.9,466.1 302.3,467.1 303.7,468.0 305.1,469.0 306.5,469.9 308.0,470.8" stroke="#2B22DA" stroke-width="2.4" fill="none" stroke-linejoin="round"/>
<path d="M82.1,468.1L83.6,467.7 85.2,467.3 86.8,466.9 88.4,466.5 90.0,466.1 91.5,465.8 93.1,465.5 94.7,465.1 96.3,464.9 97.8,464.6 99.4,464.3 101.0,464.1 102.6,463.9 104.1,463.7 105.7,463.5 107.3,463.3 108.8,463.2 110.4,463.1 112.0,463.0 113.6,462.9 115.2,462.8 116.7,462.8 118.3,462.7 119.9,462.7 121.5,462.7 123.1,462.8 124.7,462.8 126.3,462.9 127.9,463.0 129.4,463.1 131.0,463.2 132.7,463.3 134.3,463.5 135.9,463.7 137.5,463.9 139.1,464.1 140.7,464.3 142.3,464.6 144.0,464.8 145.6,465.1 147.2,465.5 148.9,465.8 150.5,466.1 152.2,466.4 153.8,466.8 155.4,467.1 157.1,467.5 158.7,467.8 160.4,468.1 162.0,468.4 163.6,468.7 165.3,469.0 166.9,469.3 168.5,469.5 170.1,469.7 171.7,469.9 173.3,470.1 174.9,470.2 176.5,470.3 178.1,470.3 179.6,470.3 181.2,470.3 182.7,470.2 184.2,470.0 185.7,469.8 187.2,469.6 188.7,469.3 190.2,468.9 191.7,468.4 193.1,467.9 194.5,467.3 195.9,466.7 197.3,465.9 198.6,465.1 199.9,464.3 201.2,463.3 202.3,462.3 203.5,461.2 204.5,460.0 205.5,458.7 206.4,457.4 207.2,456.0 207.9,454.5 208.6,453.0 209.3,451.4 209.8,449.8 210.4,448.2 210.9,446.6 211.4,444.9 211.9,443.2 212.3,441.6 212.8,439.9 213.2,438.3 213.7,436.7 214.2,435.1 214.7,433.6 215.2,432.1 215.7,430.6 216.3,429.1 216.8,427.6 217.4,426.2 218.0,424.7 218.5,423.3 219.1,421.9 219.7,420.5 220.3,419.1 221.0,417.7 221.6,416.2 222.3,414.8 222.9,413.4 223.6,412.0 224.3,410.5 225.0,409.1 225.6,407.6 226.4,406.1 227.1,404.6 227.8,403.1 228.5,401.5 229.3,399.9 230.0,398.4 230.8,396.8 231.7,395.3 232.5,393.8 233.4,392.3 234.3,390.9 235.3,389.6 236.4,388.3 237.4,387.2 238.6,386.1 239.8,385.2 241.1,384.5 242.5,383.8 244.0,383.4 245.5,383.1 247.0,382.9 248.6,383.0 250.1,383.2 251.5,383.7 252.9,384.3 254.2,385.1 255.4,386.2 256.6,387.3 257.7,388.6 258.8,389.9 259.8,391.4 260.7,392.8 261.7,394.3 262.6,395.8 263.5,397.2 264.4,398.6 265.3,400.0 266.2,401.3 267.1,402.7 267.9,404.0 268.8,405.4 269.6,406.7 270.5,408.0 271.3,409.4 272.2,410.7 273.0,412.0 273.9,413.4 274.7,414.8 275.6,416.1 276.4,417.5 277.2,418.8 278.1,420.2 278.9,421.6 279.7,423.0 280.6,424.3 281.4,425.7 282.2,427.1 283.1,428.5 283.9,429.9 284.7,431.3 285.6,432.6 286.4,434.0 287.2,435.4 288.0,436.8 288.9,438.2 289.7,439.6 290.5,441.0 291.3,442.4 292.2,443.8 293.0,445.2 293.8,446.6 294.6,448.0 295.5,449.4 296.3,450.8 297.1,452.1 298.0,453.5 298.8,454.9 299.6,456.3 300.4,457.7 301.3,459.1 302.1,460.4 302.9,461.8 303.8,463.2 304.6,464.6 305.5,465.9 306.3,467.3 307.1,468.7 308.0,470.0" stroke="#2B22DA" stroke-width="2.4" fill="none" stroke-linejoin="round" stroke-dasharray="5.1 2.5"/>
<path d="M82.1,471.2L83.6,470.7 85.1,470.3 86.6,469.9 88.1,469.5 89.6,469.1 91.2,468.7 92.7,468.3 94.3,468.0 95.8,467.6 97.4,467.3 99.0,467.0 100.6,466.7 102.2,466.4 103.8,466.1 105.4,465.9 107.1,465.7 108.7,465.4 110.3,465.2 111.9,465.0 113.6,464.9 115.2,464.7 116.8,464.6 118.5,464.4 120.1,464.3 121.7,464.2 123.4,464.2 125.0,464.1 126.6,464.1 128.2,464.0 129.9,464.0 131.5,464.1 133.1,464.1 134.7,464.1 136.3,464.2 137.9,464.3 139.4,464.4 141.0,464.5 142.6,464.7 144.1,464.9 145.6,465.1 147.2,465.3 148.7,465.5 150.2,465.8 151.7,466.1 153.2,466.4 154.7,466.7 156.2,467.1 157.8,467.5 159.3,468.0 160.8,468.4 162.3,468.9 163.8,469.5 165.3,470.0 166.8,470.7 168.4,471.3 169.9,472.0 171.5,472.7 173.1,473.5 174.6,474.3 176.2,475.1 177.8,475.8 179.4,476.6 180.9,477.2 182.5,477.9 184.0,478.4 185.5,478.8 187.0,479.1 188.5,479.3 189.9,479.4 191.3,479.2 192.7,478.9 194.0,478.5 195.3,477.9 196.6,477.2 197.8,476.3 199.0,475.4 200.2,474.3 201.3,473.2 202.4,472.0 203.5,470.7 204.5,469.3 205.5,467.9 206.5,466.4 207.5,464.9 208.4,463.4 209.3,461.9 210.2,460.3 211.0,458.8 211.9,457.3 212.7,455.8 213.4,454.3 214.2,452.8 214.9,451.4 215.6,449.9 216.3,448.5 217.0,447.1 217.7,445.6 218.3,444.2 218.9,442.8 219.5,441.4 220.1,440.0 220.7,438.6 221.3,437.2 221.9,435.8 222.5,434.3 223.0,432.9 223.6,431.5 224.2,430.1 224.7,428.6 225.3,427.2 225.8,425.7 226.4,424.2 227.0,422.7 227.5,421.2 228.1,419.7 228.7,418.2 229.3,416.6 229.9,415.1 230.5,413.5 231.1,411.9 231.8,410.3 232.4,408.6 233.1,407.0 233.8,405.4 234.6,403.9 235.4,402.4 236.2,400.9 237.1,399.5 238.0,398.1 239.0,396.8 240.1,395.6 241.2,394.5 242.4,393.6 243.6,392.7 244.9,392.0 246.2,391.5 247.6,391.3 248.9,391.5 250.1,392.0 251.3,393.0 252.5,394.4 253.6,396.0 254.6,397.6 255.5,399.2 256.5,400.7 257.3,402.2 258.1,403.7 258.9,405.2 259.6,406.7 260.2,408.1 260.9,409.6 261.5,411.0 262.1,412.5 262.7,413.9 263.4,415.4 264.0,416.8 264.6,418.3 265.3,419.7 265.9,421.2 266.6,422.6 267.2,424.1 267.9,425.5 268.6,427.0 269.3,428.4 270.1,429.9 270.8,431.3 271.5,432.7 272.3,434.1 273.1,435.5 273.9,436.9 274.7,438.3 275.5,439.7 276.4,441.0 277.2,442.4 278.1,443.7 279.0,445.1 280.0,446.4 280.9,447.6 281.9,448.9 282.8,450.2 283.9,451.4 284.9,452.6 285.9,453.8 287.0,455.0 288.1,456.1 289.3,457.2 290.4,458.3 291.6,459.4 292.8,460.5 294.0,461.5 295.3,462.5 296.6,463.4 297.9,464.4 299.3,465.3 300.6,466.1 302.1,467.0 303.5,467.8 305.0,468.5 306.5,469.3 308.0,470.0" stroke="#F50A0A" stroke-width="2.4" fill="none" stroke-linejoin="round"/>
<path d="M82.1,469.8L83.6,469.3 85.1,468.8 86.7,468.4 88.2,468.0 89.8,467.6 91.3,467.2 92.9,466.9 94.4,466.6 96.0,466.3 97.6,466.0 99.2,465.8 100.7,465.5 102.3,465.3 103.9,465.1 105.5,465.0 107.1,464.8 108.7,464.7 110.3,464.6 111.9,464.5 113.5,464.5 115.1,464.4 116.7,464.4 118.3,464.3 119.9,464.3 121.5,464.3 123.2,464.3 124.8,464.4 126.4,464.4 128.0,464.4 129.6,464.5 131.3,464.6 132.9,464.6 134.5,464.7 136.1,464.8 137.8,464.9 139.4,465.0 141.0,465.1 142.6,465.2 144.3,465.4 145.9,465.5 147.5,465.6 149.1,465.7 150.7,465.8 152.4,466.0 154.0,466.1 155.6,466.2 157.2,466.3 158.8,466.4 160.4,466.5 162.0,466.6 163.6,466.7 165.2,466.7 166.8,466.8 168.4,466.8 170.0,466.8 171.6,466.8 173.2,466.7 174.8,466.6 176.4,466.5 178.0,466.4 179.6,466.2 181.2,466.0 182.8,465.8 184.4,465.5 185.9,465.2 187.5,464.9 189.1,464.5 190.7,464.0 192.2,463.5 193.7,462.9 195.1,462.3 196.5,461.6 197.8,460.7 199.0,459.8 200.1,458.7 201.2,457.6 202.1,456.4 203.0,455.1 203.8,453.8 204.6,452.4 205.4,451.0 206.1,449.5 206.8,448.0 207.4,446.5 208.1,444.9 208.7,443.3 209.3,441.8 209.9,440.2 210.5,438.7 211.2,437.1 211.8,435.5 212.4,434.0 213.0,432.5 213.6,430.9 214.3,429.4 214.9,427.9 215.5,426.4 216.1,424.9 216.7,423.4 217.3,421.9 217.9,420.4 218.4,419.0 219.0,417.5 219.6,416.1 220.2,414.7 220.7,413.2 221.3,411.8 221.9,410.4 222.4,409.0 223.0,407.5 223.5,406.1 224.1,404.6 224.6,403.2 225.1,401.7 225.7,400.3 226.2,398.8 226.7,397.3 227.3,395.8 227.8,394.3 228.3,392.7 228.8,391.2 229.3,389.6 229.9,388.0 230.4,386.4 230.9,384.7 231.4,383.0 231.9,381.3 232.4,379.6 233.0,377.9 233.5,376.1 234.0,374.4 234.6,372.7 235.2,371.0 235.9,369.4 236.5,367.7 237.3,366.2 238.0,364.7 238.8,363.3 239.7,361.9 240.7,360.6 241.7,359.5 242.7,358.4 243.9,357.4 245.0,356.6 246.3,356.0 247.5,355.7 248.6,355.6 249.8,355.9 250.9,356.5 252.0,357.2 253.1,358.2 254.1,359.4 255.1,360.8 256.1,362.2 257.0,363.8 257.9,365.3 258.8,367.0 259.6,368.6 260.5,370.2 261.3,371.8 262.0,373.3 262.8,374.9 263.5,376.4 264.2,378.0 264.9,379.5 265.6,381.0 266.3,382.5 267.0,384.0 267.6,385.4 268.2,386.9 268.9,388.4 269.5,389.8 270.1,391.3 270.8,392.7 271.4,394.2 272.0,395.6 272.6,397.1 273.2,398.5 273.9,400.0 274.5,401.4 275.1,402.9 275.8,404.3 276.4,405.8 277.1,407.3 277.8,408.7 278.4,410.2 279.1,411.6 279.8,413.1 280.4,414.6 281.1,416.0 281.8,417.5 282.5,418.9 283.2,420.4 283.9,421.9 284.6,423.3 285.3,424.8 286.0,426.2 286.7,427.7 287.5,429.1 288.2,430.6 288.9,432.1 289.6,433.5 290.4,435.0 291.1,436.4 291.8,437.9 292.6,439.3 293.3,440.7 294.1,442.2 294.8,443.6 295.6,445.1 296.3,446.5 297.1,447.9 297.9,449.3 298.6,450.8 299.4,452.2 300.2,453.6 300.9,455.0 301.7,456.4 302.5,457.8 303.2,459.2 304.0,460.6 304.8,462.0 305.6,463.4 306.4,464.8 307.2,466.1 308.0,467.5" stroke="#F50A0A" stroke-width="2.4" fill="none" stroke-linejoin="round" stroke-dasharray="5.1 2.5"/>
<path d="M82.1,463.4L83.3,462.4 84.6,461.3 85.9,460.4 87.2,459.4 88.6,458.5 90.0,457.6 91.4,456.8 92.8,456.1 94.3,455.4 95.8,454.8 97.3,454.3 98.8,453.9 100.3,453.5 101.9,453.3 103.4,453.1 105.0,453.1 106.6,453.1 108.2,453.3 109.8,453.6 111.4,453.9 113.0,454.3 114.6,454.7 116.2,455.2 117.8,455.7 119.3,456.3 120.9,456.9 122.5,457.4 124.1,458.0 125.6,458.6 127.2,459.1 128.7,459.6 130.2,460.1 131.8,460.5 133.3,460.9 134.7,461.2 136.2,461.6 137.7,461.9 139.2,462.2 140.7,462.5 142.2,462.7 143.7,463.0 145.2,463.3 146.7,463.5 148.3,463.8 149.8,464.1 151.4,464.4 153.0,464.7 154.6,465.0 156.3,465.3 157.9,465.6 159.6,466.0 161.2,466.3 162.9,466.6 164.5,466.8 166.2,467.1 167.9,467.3 169.5,467.5 171.2,467.7 172.8,467.8 174.5,467.9 176.1,468.0 177.7,468.0 179.3,467.9 180.9,467.8 182.5,467.7 184.0,467.5 185.5,467.2 187.0,466.8 188.4,466.4 189.8,465.9 191.2,465.3 192.6,464.7 193.9,463.9 195.1,463.1 196.4,462.2 197.6,461.1 198.7,460.1 199.8,458.9 200.9,457.7 201.9,456.4 202.9,455.1 203.8,453.7 204.8,452.3 205.6,450.9 206.5,449.4 207.3,447.9 208.0,446.4 208.8,444.9 209.5,443.3 210.1,441.8 210.8,440.3 211.4,438.8 211.9,437.3 212.5,435.8 213.1,434.3 213.6,432.8 214.1,431.3 214.7,429.8 215.2,428.3 215.8,426.9 216.4,425.4 216.9,423.9 217.6,422.5 218.2,421.0 218.8,419.6 219.5,418.1 220.2,416.7 220.9,415.3 221.6,413.8 222.3,412.4 223.0,411.0 223.7,409.5 224.4,408.1 225.1,406.7 225.8,405.2 226.5,403.8 227.1,402.3 227.8,400.8 228.4,399.4 229.1,397.9 229.7,396.4 230.2,394.9 230.8,393.4 231.4,391.9 232.0,390.3 232.6,388.8 233.3,387.1 234.1,385.5 235.0,383.8 236.0,382.1 237.1,380.5 238.3,378.9 239.5,377.6 240.7,376.5 242.0,375.7 243.2,375.2 244.5,375.1 245.7,375.1 247.0,375.4 248.2,376.0 249.3,376.7 250.5,377.6 251.6,378.6 252.6,379.8 253.6,381.1 254.6,382.5 255.5,383.9 256.3,385.4 257.0,386.9 257.7,388.4 258.4,389.9 259.0,391.5 259.6,393.0 260.1,394.6 260.6,396.2 261.2,397.8 261.7,399.4 262.2,400.9 262.7,402.5 263.2,404.1 263.7,405.6 264.3,407.2 264.8,408.7 265.3,410.2 265.9,411.8 266.4,413.3 267.0,414.8 267.6,416.3 268.2,417.8 268.8,419.3 269.4,420.8 270.0,422.2 270.6,423.7 271.3,425.2 271.9,426.6 272.6,428.1 273.3,429.5 274.0,430.9 274.8,432.3 275.5,433.7 276.3,435.1 277.1,436.5 277.9,437.9 278.7,439.3 279.6,440.6 280.5,442.0 281.4,443.3 282.3,444.6 283.2,445.9 284.2,447.2 285.1,448.5 286.1,449.8 287.2,451.0 288.2,452.2 289.3,453.4 290.4,454.6 291.5,455.8 292.6,456.9 293.8,458.0 294.9,459.1 296.1,460.2 297.4,461.3 298.6,462.3 299.9,463.3 301.2,464.3 302.5,465.2 303.8,466.2 305.2,467.1 306.6,467.9 308.0,468.8" stroke="#000" stroke-width="2.4" fill="none" stroke-linejoin="round"/></g>
<g><text x="464.4" y="331.3" font-size="15.3" textLength="116.5" lengthAdjust="spacingAndGlyphs">Contralateral Limb</text>
<text x="481.3" y="543.3" font-size="15.3" textLength="91.6" lengthAdjust="spacingAndGlyphs">Gait Cycle (%)</text>
<text transform="translate(356.2,431.5) rotate(-90)" font-size="15.3" textLength="51.1" lengthAdjust="spacingAndGlyphs">Knee (°)</text>
<text transform="translate(373.5,472.8) rotate(-90)" font-size="14" textLength="133.9" lengthAdjust="spacingAndGlyphs">Extension(-) Flexion(+)</text>
<path d="M411,328.0 V497.9 M411,497.9 H642 M406.8,328.00 H411 M406.8,352.27 H411 M406.8,376.54 H411 M406.8,400.81 H411 M406.8,425.09 H411 M406.8,449.36 H411 M406.8,473.63 H411 M406.8,497.90 H411 M411.00,497.9 V501.9 M457.20,497.9 V501.9 M503.40,497.9 V501.9 M549.60,497.9 V501.9 M595.80,497.9 V501.9 M642.00,497.9 V501.9" stroke="#000" stroke-width="2.3" fill="none" stroke-linecap="square"/>
<g font-size="14.6" font-weight="bold"><text x="397.5" y="332.5" text-anchor="end">70</text><text x="397.5" y="356.8" text-anchor="end">60</text><text x="397.5" y="381.0" text-anchor="end">50</text><text x="397.5" y="405.3" text-anchor="end">40</text><text x="397.5" y="429.6" text-anchor="end">30</text><text x="397.5" y="453.9" text-anchor="end">20</text><text x="397.5" y="478.1" text-anchor="end">10</text><text x="397.5" y="502.4" text-anchor="end">0</text><text x="411.00" y="520.5" text-anchor="middle">0</text><text x="457.20" y="520.5" text-anchor="middle">20</text><text x="503.40" y="520.5" text-anchor="middle">40</text><text x="549.60" y="520.5" text-anchor="middle">60</text><text x="595.80" y="520.5" text-anchor="middle">80</text><text x="642.00" y="520.5" text-anchor="middle">100</text></g>
<path d="M410.5,491.2L411.4,488.8 412.4,486.7 413.5,484.8 414.5,483.1 415.6,481.6 416.8,480.3 418.0,479.2 419.2,478.2 420.4,477.5 421.7,476.9 423.0,476.4 424.3,476.1 425.6,475.9 427.0,475.9 428.4,475.9 429.8,476.1 431.2,476.3 432.6,476.7 434.1,477.2 435.5,477.7 437.0,478.3 438.5,478.9 439.9,479.6 441.4,480.3 442.9,481.1 444.4,481.9 445.8,482.6 447.3,483.5 448.8,484.3 450.2,485.0 451.7,485.8 453.1,486.6 454.5,487.3 455.9,488.0 457.3,488.7 458.8,489.4 460.2,490.0 461.6,490.7 463.0,491.3 464.4,491.9 465.8,492.4 467.3,493.0 468.7,493.5 470.1,493.9 471.6,494.4 473.1,494.8 474.5,495.2 476.0,495.6 477.5,495.9 479.1,496.2 480.6,496.5 482.2,496.7 483.8,496.9 485.4,497.1 487.0,497.2 488.6,497.4 490.3,497.4 491.9,497.5 493.6,497.5 495.2,497.4 496.9,497.4 498.6,497.2 500.2,497.1 501.9,496.9 503.5,496.7 505.2,496.4 506.8,496.1 508.4,495.8 510.0,495.4 511.6,495.0 513.2,494.6 514.7,494.1 516.3,493.6 517.8,493.0 519.2,492.4 520.7,491.7 522.1,491.0 523.5,490.3 524.8,489.5 526.1,488.7 527.4,487.8 528.6,486.9 529.8,485.9 531.0,485.0 532.1,483.9 533.2,482.9 534.2,481.8 535.3,480.7 536.3,479.5 537.2,478.3 538.2,477.1 539.1,475.9 540.0,474.6 540.9,473.3 541.7,472.0 542.5,470.6 543.3,469.3 544.1,467.9 544.9,466.5 545.6,465.1 546.4,463.7 547.1,462.3 547.8,460.8 548.5,459.3 549.2,457.9 549.9,456.4 550.5,454.9 551.2,453.4 551.8,451.9 552.5,450.4 553.1,448.9 553.8,447.4 554.4,445.9 555.1,444.4 555.7,442.9 556.4,441.4 557.1,439.9 557.7,438.4 558.4,437.0 559.1,435.5 559.8,434.0 560.6,432.6 561.3,431.1 562.1,429.7 562.9,428.2 563.7,426.8 564.5,425.4 565.3,424.0 566.2,422.7 567.1,421.3 568.1,420.0 569.0,418.7 570.0,417.4 571.0,416.1 572.1,414.9 573.2,413.7 574.3,412.7 575.5,411.8 576.7,411.1 577.9,410.7 579.2,410.5 580.4,410.7 581.7,411.2 583.0,412.0 584.3,412.9 585.5,414.1 586.7,415.4 587.8,416.8 588.9,418.3 589.8,419.8 590.7,421.3 591.5,422.9 592.2,424.4 592.9,425.9 593.6,427.4 594.2,428.9 594.9,430.3 595.5,431.7 596.3,433.1 597.1,434.4 597.9,435.8 598.8,437.1 599.7,438.4 600.6,439.7 601.5,441.0 602.3,442.3 603.2,443.7 604.1,445.0 605.0,446.4 605.9,447.7 606.8,449.1 607.7,450.4 608.6,451.8 609.5,453.1 610.4,454.5 611.4,455.8 612.4,457.1 613.4,458.3 614.4,459.6 615.4,460.8 616.5,462.0 617.6,463.2 618.7,464.3 619.8,465.5 620.9,466.6 622.1,467.7 623.3,468.8 624.5,469.9 625.7,470.9 626.9,472.0 628.1,473.0 629.3,474.0 630.6,475.1 631.8,476.1 633.1,477.1 634.3,478.1 635.6,479.1 636.9,480.1 638.2,481.0 639.4,482.0 640.7,483.0 642.0,484.0" stroke="#2B22DA" stroke-width="2.4" fill="none" stroke-linejoin="round"/>
<path d="M410.6,488.4L411.2,486.3 411.8,484.3 412.6,482.4 413.4,480.7 414.3,479.1 415.2,477.6 416.2,476.3 417.2,475.0 418.3,473.9 419.5,472.9 420.7,471.9 421.9,471.1 423.2,470.4 424.5,469.7 425.9,469.2 427.3,468.7 428.7,468.3 430.2,468.0 431.6,467.8 433.2,467.6 434.7,467.5 436.3,467.4 437.8,467.4 439.4,467.5 441.0,467.6 442.6,467.7 444.3,467.9 445.9,468.1 447.5,468.4 449.2,468.7 450.8,469.0 452.4,469.4 454.0,469.7 455.6,470.1 457.2,470.5 458.8,470.9 460.4,471.3 461.9,471.7 463.5,472.1 465.0,472.5 466.5,473.0 468.0,473.4 469.6,473.8 471.1,474.3 472.6,474.7 474.1,475.2 475.6,475.6 477.1,476.1 478.6,476.6 480.1,477.0 481.6,477.5 483.1,478.0 484.6,478.5 486.2,479.0 487.7,479.5 489.3,480.0 490.8,480.5 492.4,481.0 493.9,481.5 495.5,482.0 497.1,482.5 498.7,483.1 500.3,483.6 501.9,484.1 503.5,484.7 505.1,485.2 506.7,485.8 508.2,486.4 509.8,487.0 511.4,487.5 513.0,488.1 514.6,488.7 516.2,489.2 517.7,489.6 519.3,490.0 520.8,490.3 522.2,490.4 523.6,490.4 525.0,490.3 526.4,490.0 527.7,489.5 528.9,488.9 530.1,488.1 531.3,487.2 532.4,486.2 533.5,485.0 534.5,483.8 535.5,482.5 536.5,481.1 537.4,479.7 538.3,478.2 539.1,476.7 540.0,475.2 540.8,473.6 541.6,472.1 542.4,470.5 543.1,468.9 543.8,467.3 544.6,465.7 545.3,464.2 546.0,462.6 546.7,461.1 547.4,459.6 548.1,458.2 548.9,456.8 549.6,455.4 550.3,454.1 551.1,452.8 551.8,451.5 552.5,450.2 553.3,449.0 554.0,447.7 554.7,446.4 555.5,445.1 556.2,443.8 556.9,442.4 557.6,440.9 558.2,439.5 558.9,437.9 559.6,436.3 560.2,434.7 560.9,433.1 561.6,431.4 562.3,429.7 563.0,428.0 563.8,426.4 564.5,424.7 565.4,423.0 566.2,421.4 567.1,419.9 568.1,418.3 569.1,416.9 570.2,415.6 571.3,414.3 572.4,413.3 573.6,412.4 574.7,411.6 575.9,411.2 577.1,410.9 578.2,410.8 579.4,411.0 580.5,411.3 581.6,411.9 582.7,412.6 583.8,413.4 584.9,414.4 585.9,415.5 587.0,416.7 587.9,418.0 588.9,419.4 589.8,420.8 590.7,422.4 591.5,423.9 592.2,425.5 593.0,427.2 593.6,428.8 594.3,430.4 594.8,432.1 595.4,433.7 595.9,435.4 596.4,437.0 596.9,438.6 597.3,440.2 597.8,441.9 598.3,443.5 598.8,445.0 599.3,446.6 599.8,448.1 600.4,449.7 601.0,451.2 601.6,452.6 602.3,454.1 603.0,455.5 603.7,456.9 604.5,458.2 605.4,459.6 606.2,460.9 607.1,462.1 608.1,463.4 609.0,464.6 610.1,465.9 611.1,467.0 612.2,468.2 613.3,469.3 614.4,470.5 615.6,471.6 616.8,472.6 618.0,473.7 619.2,474.7 620.5,475.7 621.8,476.7 623.1,477.7 624.4,478.7 625.7,479.6 627.1,480.6 628.4,481.5 629.8,482.4 631.1,483.3 632.5,484.1 633.9,485.0 635.2,485.9 636.6,486.7 638.0,487.5 639.3,488.4 640.7,489.2 642.0,490.0" stroke="#2B22DA" stroke-width="2.4" fill="none" stroke-linejoin="round" stroke-dasharray="5.1 2.5"/>
<path d="M410.5,484.6L412.1,484.2 413.6,483.7 415.2,483.2 416.7,482.8 418.3,482.4 419.8,482.0 421.4,481.7 422.9,481.3 424.4,481.0 426.0,480.7 427.5,480.4 429.1,480.1 430.6,479.9 432.2,479.6 433.7,479.4 435.3,479.2 436.8,479.1 438.4,478.9 439.9,478.8 441.5,478.7 443.0,478.6 444.6,478.5 446.2,478.4 447.7,478.4 449.3,478.4 450.9,478.4 452.4,478.4 454.0,478.5 455.6,478.5 457.1,478.6 458.7,478.7 460.3,478.8 461.9,478.9 463.5,479.1 465.1,479.3 466.7,479.4 468.3,479.6 469.9,479.9 471.5,480.1 473.1,480.4 474.7,480.6 476.3,480.9 477.9,481.3 479.6,481.6 481.2,481.9 482.8,482.3 484.5,482.7 486.1,483.1 487.8,483.5 489.4,483.9 491.1,484.4 492.7,484.8 494.4,485.2 496.0,485.6 497.7,486.0 499.3,486.4 500.9,486.8 502.5,487.1 504.1,487.4 505.7,487.6 507.2,487.8 508.8,487.9 510.3,488.0 511.8,488.0 513.3,488.0 514.7,487.9 516.2,487.7 517.5,487.4 518.9,487.1 520.2,486.6 521.5,486.1 522.8,485.5 524.0,484.7 525.2,483.8 526.4,482.9 527.5,481.8 528.5,480.7 529.6,479.4 530.5,478.1 531.5,476.7 532.4,475.3 533.2,473.8 534.0,472.3 534.8,470.7 535.5,469.1 536.2,467.4 536.8,465.8 537.4,464.1 537.9,462.5 538.4,460.8 538.8,459.2 539.2,457.6 539.6,455.9 539.9,454.3 540.2,452.7 540.5,451.1 540.9,449.5 541.2,448.0 541.5,446.4 541.8,444.8 542.2,443.3 542.5,441.8 542.9,440.2 543.3,438.7 543.8,437.2 544.2,435.8 544.7,434.3 545.2,432.8 545.7,431.4 546.2,429.9 546.8,428.5 547.3,427.0 547.9,425.6 548.5,424.1 549.0,422.7 549.6,421.2 550.2,419.8 550.8,418.4 551.4,416.9 552.0,415.4 552.6,414.0 553.2,412.5 553.7,411.0 554.3,409.5 554.9,408.0 555.5,406.5 556.0,405.0 556.6,403.5 557.1,401.9 557.6,400.3 558.1,398.8 558.6,397.2 559.1,395.5 559.6,393.9 560.0,392.3 560.5,390.6 560.9,388.9 561.4,387.3 561.8,385.6 562.3,383.9 562.8,382.3 563.2,380.6 563.7,379.0 564.3,377.4 564.8,375.7 565.4,374.1 566.0,372.5 566.6,371.0 567.3,369.4 568.0,367.9 568.7,366.4 569.5,365.0 570.3,363.6 571.2,362.2 572.2,360.9 573.1,359.7 574.1,358.6 575.1,357.7 576.1,357.0 577.1,356.6 578.1,356.4 579.1,356.5 580.1,356.9 581.0,357.6 582.0,358.4 582.8,359.5 583.7,360.8 584.5,362.2 585.3,363.7 586.0,365.4 586.7,367.1 587.3,368.9 587.9,370.7 588.5,372.6 589.0,374.4 589.5,376.3 590.0,378.1 590.4,379.9 590.9,381.7 591.4,383.4 591.8,385.1 592.3,386.7 592.8,388.2 593.2,389.8 593.7,391.3 594.1,392.8 594.6,394.3 595.0,395.7 595.4,397.2 595.8,398.6 596.3,400.1 596.7,401.6 597.1,403.0 597.5,404.5 597.9,406.0 598.3,407.5 598.7,409.1 599.0,410.6 599.4,412.1 599.8,413.7 600.2,415.3 600.6,416.8 601.0,418.4 601.4,420.0 601.7,421.6 602.2,423.2 602.6,424.7 603.0,426.3 603.4,427.9 603.8,429.5 604.3,431.1 604.8,432.6 605.2,434.2 605.7,435.7 606.2,437.3 606.8,438.8 607.3,440.4 607.9,441.9 608.4,443.4 609.0,444.9 609.7,446.3 610.3,447.8 611.0,449.2 611.7,450.6 612.4,452.0 613.1,453.4 613.9,454.8 614.7,456.1 615.6,457.4 616.4,458.7 617.3,459.9 618.3,461.1 619.3,462.3 620.3,463.5 621.3,464.6 622.4,465.7 623.5,466.8 624.7,467.8 625.9,468.8 627.1,469.7 628.4,470.6 629.7,471.5 631.1,472.4 632.5,473.1 634.0,473.9 635.5,474.6 637.1,475.2 638.7,475.8 640.4,476.4 642.1,476.9" stroke="#F50A0A" stroke-width="2.4" fill="none" stroke-linejoin="round"/>
<path d="M410.6,483.9L410.8,482.3 411.2,480.6 411.7,479.0 412.4,477.5 413.2,476.0 414.1,474.6 415.1,473.3 416.3,472.0 417.5,470.8 418.8,469.7 420.2,468.6 421.6,467.7 423.1,466.9 424.6,466.1 426.1,465.5 427.7,465.0 429.2,464.6 430.7,464.4 432.2,464.3 433.7,464.3 435.1,464.4 436.5,464.7 437.9,465.0 439.2,465.5 440.5,466.1 441.8,466.8 443.1,467.5 444.4,468.4 445.6,469.3 446.9,470.2 448.1,471.2 449.4,472.2 450.6,473.3 451.9,474.3 453.2,475.4 454.5,476.5 455.8,477.6 457.2,478.7 458.5,479.7 459.9,480.8 461.4,481.7 462.8,482.7 464.3,483.7 465.8,484.6 467.3,485.4 468.8,486.3 470.4,487.1 471.9,487.8 473.5,488.6 475.1,489.3 476.7,489.9 478.3,490.5 479.9,491.1 481.6,491.6 483.2,492.1 484.8,492.6 486.4,493.0 488.1,493.3 489.7,493.6 491.3,493.9 492.9,494.1 494.5,494.3 496.1,494.4 497.7,494.4 499.2,494.4 500.8,494.4 502.3,494.2 503.9,494.1 505.4,493.8 506.8,493.5 508.3,493.2 509.7,492.8 511.1,492.3 512.5,491.8 513.8,491.2 515.2,490.5 516.5,489.8 517.7,489.0 518.9,488.1 520.1,487.2 521.3,486.3 522.4,485.3 523.6,484.2 524.6,483.1 525.7,482.0 526.7,480.8 527.7,479.5 528.7,478.3 529.6,477.0 530.5,475.6 531.4,474.3 532.3,472.9 533.1,471.4 533.9,470.0 534.7,468.5 535.5,467.0 536.2,465.5 536.9,464.0 537.6,462.5 538.2,461.0 538.8,459.4 539.4,457.9 540.0,456.3 540.6,454.7 541.1,453.2 541.6,451.6 542.1,450.1 542.5,448.5 543.0,447.0 543.4,445.4 543.8,443.9 544.2,442.3 544.6,440.8 545.0,439.2 545.3,437.7 545.7,436.2 546.1,434.6 546.4,433.1 546.8,431.5 547.1,430.0 547.5,428.5 547.9,426.9 548.2,425.4 548.6,423.8 549.0,422.3 549.4,420.8 549.8,419.2 550.2,417.7 550.7,416.1 551.1,414.6 551.6,413.1 552.1,411.5 552.6,410.0 553.2,408.4 553.8,406.9 554.4,405.3 555.0,403.8 555.6,402.2 556.3,400.7 557.1,399.2 557.8,397.7 558.6,396.2 559.4,394.7 560.2,393.2 561.1,391.8 562.0,390.4 563.0,389.0 564.0,387.6 565.0,386.3 566.0,385.0 567.1,383.7 568.3,382.5 569.5,381.3 570.7,380.2 571.9,379.2 573.1,378.4 574.3,377.7 575.6,377.2 576.8,376.8 578.1,376.7 579.3,376.8 580.5,377.2 581.7,377.7 582.8,378.4 584.0,379.3 585.1,380.4 586.2,381.6 587.3,382.9 588.4,384.3 589.4,385.8 590.4,387.4 591.4,389.0 592.4,390.7 593.3,392.4 594.2,394.1 595.0,395.7 595.8,397.4 596.6,399.0 597.4,400.5 598.1,402.0 598.8,403.5 599.5,405.0 600.2,406.4 600.8,407.9 601.5,409.3 602.1,410.7 602.7,412.1 603.3,413.4 603.9,414.8 604.6,416.2 605.2,417.6 605.8,419.1 606.5,420.5 607.1,421.9 607.7,423.3 608.4,424.8 609.0,426.2 609.6,427.6 610.3,429.1 610.9,430.5 611.6,432.0 612.3,433.4 612.9,434.9 613.6,436.3 614.2,437.8 614.9,439.3 615.6,440.7 616.3,442.2 616.9,443.7 617.6,445.1 618.3,446.6 619.0,448.1 619.7,449.6 620.4,451.0 621.1,452.5 621.8,454.0 622.5,455.4 623.2,456.9 623.9,458.4 624.6,459.8 625.3,461.3 626.0,462.8 626.8,464.2 627.5,465.7 628.2,467.1 629.0,468.6 629.7,470.0 630.4,471.5 631.2,472.9 631.9,474.3 632.7,475.8 633.4,477.2 634.2,478.6 635.0,480.0 635.7,481.4 636.5,482.9 637.3,484.2 638.0,485.6 638.8,487.0 639.6,488.4 640.4,489.8 641.2,491.1 642.0,492.5" stroke="#F50A0A" stroke-width="2.4" fill="none" stroke-linejoin="round" stroke-dasharray="5.1 2.5"/>
<path d="M410.5,487.5L411.9,486.0 413.3,484.6 414.7,483.4 416.1,482.3 417.5,481.3 419.0,480.5 420.4,479.8 421.9,479.1 423.3,478.6 424.8,478.2 426.3,477.9 427.7,477.7 429.2,477.5 430.7,477.5 432.2,477.5 433.7,477.6 435.3,477.7 436.8,477.9 438.3,478.2 439.9,478.5 441.4,478.8 442.9,479.2 444.5,479.6 446.0,480.0 447.6,480.5 449.2,481.0 450.7,481.5 452.3,482.0 453.9,482.4 455.4,482.9 457.0,483.4 458.6,483.9 460.1,484.4 461.7,484.8 463.3,485.3 464.9,485.7 466.5,486.2 468.1,486.6 469.6,487.0 471.2,487.4 472.8,487.8 474.4,488.2 476.0,488.5 477.6,488.9 479.2,489.2 480.8,489.6 482.4,489.9 483.9,490.1 485.5,490.4 487.1,490.7 488.7,490.9 490.3,491.1 491.9,491.3 493.5,491.4 495.1,491.6 496.7,491.7 498.3,491.8 499.9,491.9 501.5,491.9 503.1,491.9 504.6,491.9 506.2,491.9 507.8,491.8 509.4,491.7 511.0,491.6 512.6,491.5 514.1,491.3 515.7,491.1 517.3,490.8 518.9,490.5 520.4,490.2 522.0,489.8 523.5,489.4 525.0,488.9 526.4,488.3 527.8,487.6 529.1,486.8 530.3,485.9 531.5,485.0 532.6,483.9 533.6,482.7 534.6,481.4 535.5,480.0 536.3,478.6 537.1,477.1 537.9,475.6 538.6,474.0 539.3,472.5 539.9,470.9 540.6,469.3 541.3,467.7 541.9,466.1 542.6,464.6 543.2,463.1 543.9,461.6 544.5,460.2 545.2,458.8 545.8,457.4 546.5,456.0 547.1,454.6 547.8,453.2 548.5,451.8 549.1,450.5 549.7,449.1 550.4,447.7 551.0,446.3 551.7,444.9 552.3,443.5 552.9,442.1 553.5,440.7 554.1,439.2 554.7,437.7 555.3,436.2 555.9,434.7 556.5,433.1 557.0,431.5 557.6,429.9 558.1,428.2 558.6,426.5 559.2,424.8 559.7,423.0 560.2,421.3 560.8,419.6 561.4,417.8 562.0,416.1 562.6,414.5 563.3,412.8 564.0,411.2 564.8,409.7 565.6,408.2 566.4,406.8 567.4,405.5 568.4,404.3 569.4,403.1 570.5,402.1 571.7,401.2 573.0,400.4 574.3,399.8 575.5,399.3 576.8,399.0 578.0,398.9 579.2,399.0 580.3,399.3 581.4,399.8 582.4,400.4 583.4,401.2 584.4,402.2 585.3,403.2 586.2,404.4 587.0,405.8 587.8,407.2 588.6,408.7 589.4,410.3 590.1,411.9 590.8,413.6 591.5,415.3 592.2,417.1 592.9,418.9 593.5,420.7 594.2,422.5 594.8,424.2 595.4,426.0 596.1,427.7 596.7,429.4 597.4,431.1 598.0,432.7 598.6,434.3 599.3,436.0 599.9,437.5 600.5,439.1 601.2,440.6 601.8,442.2 602.5,443.7 603.2,445.1 603.8,446.6 604.5,448.0 605.2,449.5 605.9,450.9 606.5,452.3 607.3,453.7 608.0,455.0 608.7,456.4 609.4,457.7 610.2,459.0 611.0,460.3 611.7,461.6 612.5,462.9 613.3,464.1 614.2,465.4 615.0,466.6 615.9,467.8 616.7,469.0 617.6,470.2 618.6,471.4 619.5,472.6 620.5,473.8 621.4,475.0 622.4,476.1 623.5,477.3 624.5,478.4 625.6,479.6 626.7,480.7 627.8,481.8 629.0,483.0 630.2,484.1 631.4,485.2 632.6,486.3 633.9,487.4 635.2,488.5 636.5,489.6 637.9,490.7 639.3,491.8 640.7,492.9 642.2,494.0" stroke="#000" stroke-width="2.4" fill="none" stroke-linejoin="round"/></g>
<g><text x="130.0" y="580.2" font-size="15.3" textLength="105.4" lengthAdjust="spacingAndGlyphs">Amputated Limb</text>
<text x="148.4" y="795.5" font-size="15.3" textLength="92.4" lengthAdjust="spacingAndGlyphs">Gait Cycle (%)</text>
<text transform="translate(21.2,689.3) rotate(-90)" font-size="15.3" textLength="42.3" lengthAdjust="spacingAndGlyphs">Hip (°)</text>
<text transform="translate(38.5,735.6) rotate(-90)" font-size="14" textLength="135.0" lengthAdjust="spacingAndGlyphs">Extension(-) Flexion(+)</text>
<path d="M82,580.9 V751.15 M82,751.15 H308 M77.8,580.90 H82 M77.8,605.22 H82 M77.8,629.54 H82 M77.8,653.86 H82 M77.8,678.19 H82 M77.8,702.51 H82 M77.8,726.83 H82 M77.8,751.15 H82 M82.00,751.15 V755.15 M127.20,751.15 V755.15 M172.40,751.15 V755.15 M217.60,751.15 V755.15 M262.80,751.15 V755.15 M308.00,751.15 V755.15" stroke="#000" stroke-width="2.3" fill="none" stroke-linecap="square"/>
<g font-size="14.6" font-weight="bold"><text x="68.5" y="585.4" text-anchor="end">20</text><text x="68.5" y="609.7" text-anchor="end">15</text><text x="68.5" y="634.0" text-anchor="end">10</text><text x="68.5" y="658.4" text-anchor="end">5</text><text x="68.5" y="682.7" text-anchor="end">0</text><text x="68.5" y="707.0" text-anchor="end">-5</text><text x="68.5" y="731.3" text-anchor="end">-10</text><text x="68.5" y="755.6" text-anchor="end">-15</text><text x="82.00" y="773.8" text-anchor="middle">0</text><text x="127.20" y="773.8" text-anchor="middle">20</text><text x="172.40" y="773.8" text-anchor="middle">40</text><text x="217.60" y="773.8" text-anchor="middle">60</text><text x="262.80" y="773.8" text-anchor="middle">80</text><text x="308.00" y="773.8" text-anchor="middle">100</text></g>
<path d="M82.1,587.4L82.4,589.1 82.8,590.8 83.2,592.4 83.6,594.1 84.1,595.7 84.6,597.3 85.1,598.8 85.7,600.4 86.3,601.9 86.9,603.4 87.5,604.9 88.1,606.4 88.8,607.8 89.5,609.3 90.3,610.7 91.0,612.1 91.8,613.5 92.6,614.8 93.4,616.2 94.2,617.5 95.1,618.9 96.0,620.2 96.9,621.5 97.8,622.7 98.7,624.0 99.7,625.3 100.7,626.5 101.7,627.7 102.7,629.0 103.7,630.2 104.8,631.4 105.8,632.5 106.9,633.7 108.0,634.9 109.1,636.0 110.2,637.2 111.3,638.3 112.5,639.4 113.6,640.5 114.8,641.6 115.9,642.7 117.1,643.8 118.3,644.9 119.5,646.0 120.7,647.1 121.9,648.1 123.2,649.2 124.4,650.3 125.6,651.3 126.9,652.4 128.1,653.4 129.4,654.4 130.7,655.5 131.9,656.5 133.2,657.5 134.5,658.6 135.7,659.6 137.0,660.6 138.3,661.7 139.6,662.7 140.9,663.7 142.1,664.7 143.4,665.8 144.7,666.8 146.0,667.8 147.2,668.8 148.5,669.9 149.8,670.9 151.0,671.9 152.3,673.0 153.6,674.0 154.8,675.1 156.1,676.1 157.3,677.2 158.5,678.2 159.8,679.3 161.0,680.4 162.2,681.4 163.4,682.5 164.6,683.6 165.8,684.7 167.0,685.8 168.2,686.8 169.4,687.9 170.7,688.9 171.9,690.0 173.1,691.0 174.4,692.0 175.7,693.0 177.0,693.9 178.3,694.9 179.6,695.8 181.0,696.7 182.4,697.6 183.8,698.4 185.3,699.2 186.8,700.0 188.3,700.7 189.8,701.4 191.3,702.0 192.9,702.5 194.4,703.0 196.0,703.4 197.6,703.7 199.1,703.9 200.7,704.0 202.2,704.0 203.7,703.9 205.2,703.6 206.7,703.3 208.1,702.8 209.5,702.2 210.9,701.5 212.3,700.8 213.6,699.9 214.9,699.0 216.1,698.0 217.3,696.9 218.5,695.8 219.6,694.6 220.7,693.4 221.7,692.1 222.7,690.7 223.7,689.4 224.7,688.0 225.6,686.5 226.5,685.1 227.3,683.6 228.2,682.1 229.1,680.6 229.9,679.1 230.7,677.6 231.6,676.1 232.4,674.6 233.3,673.2 234.1,671.7 235.0,670.3 235.9,668.8 236.8,667.5 237.8,666.1 238.7,664.8 239.7,663.5 240.6,662.2 241.6,660.9 242.6,659.7 243.7,658.4 244.7,657.3 245.8,656.1 246.9,654.9 248.0,653.8 249.1,652.7 250.2,651.6 251.4,650.6 252.6,649.5 253.7,648.5 254.9,647.5 256.2,646.5 257.4,645.6 258.7,644.6 259.9,643.7 261.2,642.8 262.6,641.9 263.9,641.0 265.2,640.2 266.6,639.4 268.0,638.5 269.4,637.7 270.8,637.0 272.2,636.2 273.7,635.4 275.1,634.7 276.6,634.0 278.1,633.3 279.6,632.5 281.1,631.8 282.6,631.1 284.1,630.4 285.6,629.7 287.1,629.0 288.6,628.3 290.0,627.6 291.5,626.8 293.0,626.1 294.5,625.3 295.9,624.6 297.3,623.8 298.7,623.0 300.1,622.2 301.5,621.3 302.9,620.5 304.2,619.6 305.5,618.7 306.7,617.8 308.0,616.8" stroke="#2B22DA" stroke-width="2.4" fill="none" stroke-linejoin="round"/>
<path d="M82.1,588.5L82.7,589.9 83.3,591.3 84.0,592.8 84.6,594.2 85.3,595.7 85.9,597.1 86.5,598.6 87.2,600.1 87.9,601.6 88.5,603.1 89.2,604.5 89.9,606.0 90.6,607.5 91.3,609.0 92.1,610.4 92.8,611.9 93.6,613.3 94.4,614.8 95.3,616.2 96.1,617.5 97.0,618.9 97.9,620.2 98.8,621.6 99.8,622.8 100.8,624.1 101.8,625.3 102.9,626.5 104.0,627.6 105.1,628.7 106.3,629.8 107.5,630.8 108.8,631.8 110.0,632.8 111.3,633.7 112.7,634.6 114.0,635.6 115.3,636.4 116.7,637.3 118.1,638.2 119.4,639.0 120.8,639.9 122.2,640.7 123.6,641.6 125.0,642.4 126.3,643.3 127.7,644.1 129.1,645.0 130.4,645.9 131.7,646.8 133.0,647.8 134.3,648.7 135.6,649.7 136.8,650.6 138.1,651.6 139.3,652.6 140.5,653.7 141.7,654.7 142.9,655.8 144.0,656.9 145.1,658.0 146.3,659.1 147.4,660.2 148.5,661.4 149.5,662.6 150.6,663.8 151.6,665.0 152.6,666.2 153.6,667.5 154.6,668.8 155.5,670.1 156.5,671.4 157.4,672.8 158.3,674.1 159.1,675.5 160.0,676.9 160.8,678.3 161.7,679.8 162.5,681.2 163.3,682.7 164.0,684.1 164.8,685.6 165.6,687.0 166.3,688.5 167.0,690.0 167.7,691.4 168.4,692.9 169.1,694.3 169.8,695.8 170.5,697.2 171.1,698.6 171.8,700.0 172.4,701.4 173.1,702.7 173.7,704.1 174.3,705.4 175.0,706.8 175.7,708.2 176.3,709.5 177.0,710.9 177.7,712.3 178.4,713.8 179.2,715.2 180.0,716.7 180.8,718.3 181.7,719.9 182.6,721.5 183.5,723.1 184.5,724.8 185.5,726.4 186.5,727.9 187.5,729.3 188.6,730.6 189.7,731.7 190.8,732.6 191.9,733.3 193.0,733.7 194.1,733.9 195.2,733.7 196.3,733.2 197.4,732.5 198.5,731.5 199.5,730.3 200.4,729.0 201.3,727.5 202.1,725.9 202.8,724.3 203.4,722.6 203.9,720.8 204.3,719.1 204.7,717.4 205.0,715.7 205.4,714.0 205.7,712.3 206.0,710.7 206.3,709.1 206.7,707.5 207.0,705.9 207.3,704.3 207.6,702.8 207.9,701.2 208.1,699.7 208.4,698.2 208.7,696.7 209.0,695.1 209.2,693.6 209.5,692.1 209.8,690.6 210.0,689.0 210.3,687.5 210.5,685.9 210.8,684.4 211.0,682.8 211.3,681.2 211.5,679.5 211.8,677.9 212.0,676.2 212.3,674.6 212.6,673.0 212.9,671.3 213.2,669.7 213.6,668.0 214.0,666.4 214.5,664.8 215.0,663.2 215.5,661.6 216.1,660.1 216.8,658.6 217.5,657.2 218.3,655.8 219.1,654.5 220.1,653.4 221.2,652.4 222.3,651.5 223.6,650.8 225.0,650.3 226.4,649.8 227.9,649.5 229.5,649.2 231.0,648.9 232.6,648.7 234.2,648.4 235.8,648.1 237.3,647.8 238.9,647.5 240.5,647.2 242.0,646.9 243.6,646.5 245.2,646.2 246.7,645.8 248.3,645.4 249.8,645.0 251.4,644.6 252.9,644.1 254.5,643.6 256.0,643.1 257.5,642.6 259.0,642.1 260.5,641.5 262.0,640.9 263.5,640.3 265.0,639.7 266.5,639.1 268.0,638.4 269.4,637.8 270.9,637.1 272.4,636.4 273.8,635.7 275.3,635.0 276.8,634.3 278.2,633.6 279.7,632.9 281.1,632.1 282.5,631.4 284.0,630.6 285.4,629.9 286.8,629.1 288.3,628.3 289.7,627.6 291.1,626.8 292.5,626.0 293.9,625.3 295.3,624.5 296.8,623.7 298.2,623.0 299.6,622.2 301.0,621.4 302.4,620.7 303.8,619.9 305.2,619.2 306.6,618.5 308.0,617.7" stroke="#2B22DA" stroke-width="2.4" fill="none" stroke-linejoin="round" stroke-dasharray="5.1 2.5"/>
<path d="M82.1,605.0L82.8,606.5 83.5,608.0 84.2,609.5 84.9,611.0 85.7,612.4 86.4,613.8 87.2,615.3 88.0,616.6 88.8,618.0 89.7,619.4 90.6,620.7 91.4,622.0 92.3,623.4 93.2,624.7 94.2,625.9 95.1,627.2 96.1,628.5 97.0,629.7 98.0,631.0 99.0,632.2 100.1,633.4 101.1,634.6 102.1,635.8 103.2,637.0 104.2,638.2 105.3,639.4 106.4,640.6 107.5,641.8 108.6,643.0 109.7,644.1 110.9,645.3 112.0,646.5 113.2,647.6 114.3,648.8 115.5,649.9 116.7,651.1 117.8,652.2 119.0,653.3 120.2,654.5 121.5,655.6 122.7,656.7 123.9,657.7 125.2,658.8 126.4,659.9 127.7,660.9 129.0,661.9 130.3,662.9 131.5,663.9 132.9,664.9 134.2,665.8 135.5,666.8 136.8,667.7 138.2,668.6 139.5,669.4 140.9,670.3 142.3,671.1 143.7,671.9 145.1,672.7 146.5,673.4 147.9,674.2 149.3,674.9 150.7,675.5 152.2,676.2 153.6,676.8 155.1,677.4 156.6,677.9 158.1,678.4 159.6,678.9 161.1,679.4 162.6,679.8 164.1,680.1 165.7,680.5 167.2,680.8 168.8,681.1 170.3,681.3 171.9,681.5 173.5,681.7 175.1,681.8 176.7,681.9 178.3,682.0 179.9,682.0 181.5,682.0 183.1,682.0 184.7,681.9 186.4,681.8 188.0,681.7 189.6,681.6 191.2,681.4 192.8,681.2 194.5,681.0 196.1,680.7 197.7,680.5 199.3,680.2 200.9,679.9 202.5,679.5 204.1,679.1 205.7,678.8 207.3,678.3 208.9,677.9 210.5,677.5 212.0,677.0 213.6,676.5 215.1,676.0 216.7,675.5 218.2,674.9 219.7,674.3 221.2,673.8 222.7,673.1 224.2,672.5 225.7,671.9 227.1,671.2 228.5,670.5 230.0,669.8 231.4,669.1 232.7,668.3 234.1,667.5 235.5,666.7 236.8,665.9 238.1,665.0 239.4,664.1 240.7,663.2 241.9,662.3 243.1,661.3 244.3,660.3 245.5,659.3 246.7,658.2 247.8,657.2 248.9,656.0 250.0,654.9 251.1,653.7 252.1,652.6 253.1,651.4 254.2,650.1 255.1,648.9 256.1,647.6 257.1,646.4 258.1,645.1 259.0,643.8 260.0,642.5 260.9,641.1 261.8,639.8 262.8,638.5 263.7,637.1 264.6,635.8 265.5,634.5 266.5,633.1 267.4,631.8 268.3,630.4 269.3,629.1 270.2,627.8 271.2,626.5 272.2,625.2 273.1,623.9 274.1,622.6 275.1,621.4 276.2,620.1 277.2,618.9 278.3,617.7 279.4,616.5 280.5,615.4 281.6,614.2 282.7,613.1 283.9,612.0 285.1,611.0 286.3,610.0 287.6,609.0 288.8,608.0 290.1,607.0 291.4,606.1 292.7,605.2 294.1,604.2 295.4,603.4 296.8,602.5 298.2,601.6 299.5,600.8 300.9,599.9 302.3,599.1 303.8,598.3 305.2,597.5 306.6,596.7 308.1,595.9" stroke="#F50A0A" stroke-width="2.4" fill="none" stroke-linejoin="round"/>
<path d="M82.1,597.0L83.4,597.9 84.8,598.8 86.1,599.7 87.4,600.6 88.7,601.5 90.0,602.4 91.3,603.3 92.6,604.3 93.9,605.2 95.2,606.1 96.5,607.1 97.8,608.0 99.1,609.0 100.4,609.9 101.7,610.9 103.0,611.9 104.3,612.8 105.6,613.8 106.9,614.8 108.2,615.8 109.4,616.8 110.7,617.8 112.0,618.8 113.2,619.8 114.5,620.8 115.8,621.9 117.0,622.9 118.2,623.9 119.5,625.0 120.7,626.0 121.9,627.1 123.1,628.2 124.3,629.2 125.5,630.3 126.7,631.4 127.9,632.5 129.1,633.6 130.3,634.7 131.4,635.8 132.6,636.9 133.7,638.1 134.8,639.2 136.0,640.4 137.1,641.5 138.2,642.7 139.3,643.8 140.4,645.0 141.4,646.2 142.5,647.4 143.5,648.6 144.6,649.8 145.6,651.0 146.6,652.3 147.6,653.5 148.6,654.8 149.6,656.0 150.5,657.3 151.5,658.6 152.4,659.9 153.3,661.2 154.2,662.6 155.1,663.9 155.9,665.3 156.7,666.7 157.6,668.1 158.4,669.6 159.1,671.0 159.9,672.5 160.6,674.0 161.4,675.4 162.1,676.9 162.8,678.4 163.5,679.9 164.2,681.4 164.9,682.9 165.6,684.4 166.3,685.8 166.9,687.3 167.6,688.7 168.3,690.1 169.0,691.5 169.7,692.9 170.4,694.2 171.0,695.6 171.7,696.9 172.4,698.3 173.1,699.6 173.8,701.0 174.5,702.3 175.3,703.7 176.0,705.1 176.7,706.5 177.4,707.9 178.2,709.4 178.9,710.9 179.7,712.4 180.5,713.9 181.2,715.5 182.0,717.1 182.8,718.8 183.6,720.6 184.5,722.3 185.3,724.0 186.2,725.7 187.2,727.2 188.2,728.6 189.2,729.9 190.4,730.8 191.6,731.5 192.8,731.9 194.0,731.9 195.2,731.7 196.4,731.2 197.6,730.5 198.8,729.6 199.9,728.6 201.0,727.4 202.0,726.1 202.9,724.7 203.7,723.3 204.4,721.8 205.1,720.3 205.6,718.7 206.2,717.1 206.6,715.5 207.0,713.9 207.4,712.2 207.7,710.6 208.0,708.9 208.3,707.2 208.5,705.5 208.7,703.8 209.0,702.1 209.2,700.5 209.5,698.8 209.7,697.1 210.0,695.5 210.3,693.9 210.6,692.3 211.0,690.8 211.4,689.2 211.8,687.7 212.2,686.1 212.6,684.6 213.1,683.1 213.5,681.6 214.0,680.2 214.5,678.7 215.0,677.2 215.5,675.8 216.0,674.3 216.5,672.8 217.0,671.4 217.6,669.9 218.1,668.4 218.6,666.9 219.2,665.5 219.7,664.0 220.2,662.5 220.8,661.0 221.3,659.4 221.8,657.9 222.4,656.3 222.9,654.8 223.4,653.2 223.9,651.6 224.3,650.0 224.8,648.3 225.3,646.7 225.8,645.0 226.3,643.4 226.8,641.7 227.3,640.1 227.8,638.5 228.3,636.8 228.9,635.2 229.4,633.6 230.0,632.1 230.6,630.5 231.3,629.0 232.0,627.5 232.7,626.1 233.4,624.6 234.2,623.3 235.0,621.9 235.9,620.7 236.8,619.4 237.8,618.3 238.8,617.1 239.9,616.1 241.1,615.1 242.3,614.2 243.6,613.3 244.9,612.6 246.3,611.9 247.7,611.3 249.2,610.8 250.8,610.4 252.3,610.2 253.8,610.0 255.4,610.1 256.9,610.3 258.4,610.6 259.9,611.2 261.3,611.9 262.7,612.8 264.1,613.8 265.4,614.9 266.8,616.1 268.1,617.3 269.4,618.5 270.7,619.7 272.0,620.9 273.4,622.0 274.8,623.0 276.2,623.8 277.6,624.6 279.1,625.1 280.6,625.5 282.1,625.8 283.7,626.0 285.3,626.1 286.9,626.1 288.5,626.1 290.2,626.1 291.8,626.1 293.4,626.0 295.1,626.0 296.7,625.9 298.3,625.9 300.0,625.8 301.6,625.8 303.2,625.8 304.8,625.8 306.4,625.8 308.0,625.9" stroke="#F50A0A" stroke-width="2.4" fill="none" stroke-linejoin="round" stroke-dasharray="5.1 2.5"/>
<path d="M82.1,596.4L83.3,595.3 84.7,594.2 86.1,593.2 87.6,592.3 89.1,591.5 90.7,590.9 92.3,590.4 93.8,590.1 95.4,590.0 96.9,590.1 98.4,590.4 99.8,590.9 101.2,591.5 102.6,592.1 103.9,592.9 105.2,593.8 106.5,594.7 107.8,595.6 109.0,596.6 110.2,597.6 111.4,598.6 112.6,599.6 113.7,600.7 114.9,601.9 116.0,603.0 117.1,604.2 118.1,605.4 119.2,606.6 120.2,607.8 121.2,609.1 122.3,610.3 123.2,611.6 124.2,612.9 125.2,614.2 126.2,615.5 127.1,616.9 128.1,618.2 129.0,619.6 129.9,620.9 130.9,622.3 131.8,623.6 132.7,625.0 133.6,626.4 134.5,627.7 135.4,629.1 136.3,630.4 137.3,631.8 138.2,633.1 139.1,634.5 140.0,635.8 140.9,637.1 141.8,638.4 142.7,639.7 143.7,641.1 144.6,642.4 145.5,643.7 146.4,645.0 147.3,646.3 148.3,647.5 149.2,648.8 150.1,650.1 151.0,651.4 151.9,652.7 152.8,654.0 153.7,655.3 154.6,656.5 155.5,657.8 156.4,659.1 157.3,660.4 158.2,661.7 159.1,663.1 159.9,664.4 160.8,665.8 161.6,667.1 162.4,668.5 163.3,669.9 164.1,671.3 164.9,672.7 165.6,674.1 166.4,675.6 167.2,677.1 167.9,678.5 168.7,680.0 169.4,681.5 170.2,683.0 170.9,684.5 171.7,685.9 172.5,687.4 173.2,688.9 174.0,690.4 174.8,691.8 175.6,693.3 176.4,694.7 177.2,696.2 178.0,697.6 178.9,699.0 179.8,700.3 180.7,701.7 181.6,703.0 182.5,704.3 183.5,705.6 184.5,706.8 185.5,708.0 186.6,709.2 187.7,710.4 188.8,711.5 190.0,712.5 191.2,713.6 192.4,714.6 193.7,715.5 195.0,716.3 196.3,717.0 197.5,717.5 198.8,717.8 200.0,717.9 201.2,717.6 202.3,717.1 203.3,716.2 204.2,715.0 205.1,713.6 205.9,712.0 206.5,710.3 207.1,708.5 207.7,706.6 208.2,704.8 208.7,702.9 209.1,701.1 209.6,699.3 210.0,697.6 210.5,696.0 211.0,694.4 211.5,692.9 212.1,691.4 212.7,690.0 213.3,688.5 213.9,687.1 214.6,685.6 215.3,684.2 216.0,682.8 216.7,681.4 217.5,680.0 218.2,678.7 219.0,677.3 219.8,675.9 220.7,674.6 221.5,673.2 222.3,671.9 223.2,670.6 224.1,669.2 225.0,667.9 225.9,666.6 226.8,665.3 227.7,664.0 228.6,662.6 229.5,661.3 230.4,660.0 231.3,658.7 232.3,657.4 233.2,656.0 234.1,654.7 235.0,653.4 235.9,652.1 236.8,650.7 237.7,649.4 238.6,648.0 239.5,646.7 240.4,645.3 241.2,643.9 242.1,642.5 242.9,641.1 243.7,639.7 244.6,638.3 245.4,636.9 246.2,635.5 247.0,634.1 247.8,632.7 248.6,631.3 249.4,629.9 250.2,628.5 251.1,627.1 251.9,625.7 252.7,624.3 253.6,622.9 254.4,621.5 255.3,620.2 256.1,618.8 257.0,617.5 257.9,616.2 258.8,614.9 259.8,613.6 260.7,612.3 261.7,611.1 262.7,609.9 263.7,608.6 264.8,607.5 265.9,606.3 267.0,605.2 268.1,604.0 269.3,603.0 270.5,601.9 271.7,600.9 272.9,599.9 274.2,598.9 275.6,598.0 276.9,597.1 278.3,596.3 279.8,595.5 281.2,594.8 282.7,594.2 284.2,593.6 285.7,593.2 287.3,592.8 288.8,592.6 290.4,592.4 292.0,592.4 293.6,592.5 295.2,592.6 296.8,592.8 298.4,593.0 300.1,593.1 301.7,593.3 303.3,593.4 304.9,593.4 306.5,593.2 308.1,593.0" stroke="#000" stroke-width="2.4" fill="none" stroke-linejoin="round"/></g>
<g><text x="464.4" y="580.3" font-size="15.3" textLength="116.5" lengthAdjust="spacingAndGlyphs">Contralateral Limb</text>
<text x="481.3" y="795.5" font-size="15.3" textLength="92.0" lengthAdjust="spacingAndGlyphs">Gait Cycle (%)</text>
<text transform="translate(356.2,689.3) rotate(-90)" font-size="15.3" textLength="42.3" lengthAdjust="spacingAndGlyphs">Hip (°)</text>
<text transform="translate(373.5,735.6) rotate(-90)" font-size="14" textLength="135.0" lengthAdjust="spacingAndGlyphs">Extension(-) Flexion(+)</text>
<path d="M415.8,581.0 V751.15 M415.8,751.15 H642.1 M411.6,581.00 H415.8 M411.6,602.27 H415.8 M411.6,623.54 H415.8 M411.6,644.81 H415.8 M411.6,666.08 H415.8 M411.6,687.34 H415.8 M411.6,708.61 H415.8 M411.6,729.88 H415.8 M411.6,751.15 H415.8 M415.80,751.15 V755.15 M461.06,751.15 V755.15 M506.32,751.15 V755.15 M551.58,751.15 V755.15 M596.84,751.15 V755.15 M642.10,751.15 V755.15" stroke="#000" stroke-width="2.3" fill="none" stroke-linecap="square"/>
<g font-size="14.6" font-weight="bold"><text x="402.3" y="585.5" text-anchor="end">30</text><text x="402.3" y="606.8" text-anchor="end">25</text><text x="402.3" y="628.0" text-anchor="end">20</text><text x="402.3" y="649.3" text-anchor="end">15</text><text x="402.3" y="670.6" text-anchor="end">10</text><text x="402.3" y="691.8" text-anchor="end">5</text><text x="402.3" y="713.1" text-anchor="end">0</text><text x="402.3" y="734.4" text-anchor="end">-5</text><text x="402.3" y="755.6" text-anchor="end">-10</text><text x="415.80" y="773.8" text-anchor="middle">0</text><text x="461.06" y="773.8" text-anchor="middle">20</text><text x="506.32" y="773.8" text-anchor="middle">40</text><text x="551.58" y="773.8" text-anchor="middle">60</text><text x="596.84" y="773.8" text-anchor="middle">80</text><text x="642.10" y="773.8" text-anchor="middle">100</text></g>
<path d="M415.6,657.5L417.0,657.0 418.4,656.3 419.9,655.5 421.4,654.6 422.9,653.7 424.4,652.9 426.0,652.2 427.5,651.7 429.0,651.4 430.6,651.3 432.1,651.5 433.6,651.9 435.1,652.4 436.5,653.1 437.9,653.9 439.3,654.7 440.6,655.5 441.9,656.5 443.2,657.4 444.4,658.4 445.6,659.5 446.8,660.6 447.9,661.7 449.1,662.9 450.2,664.1 451.3,665.3 452.4,666.5 453.5,667.7 454.6,669.0 455.7,670.2 456.8,671.5 457.8,672.7 458.9,674.0 460.0,675.2 461.1,676.4 462.2,677.6 463.3,678.7 464.4,679.9 465.6,681.1 466.7,682.2 467.8,683.3 468.9,684.5 470.1,685.6 471.2,686.7 472.4,687.8 473.5,688.9 474.7,690.0 475.8,691.1 477.0,692.2 478.1,693.3 479.3,694.4 480.4,695.4 481.6,696.5 482.7,697.6 483.9,698.8 485.0,699.9 486.1,701.0 487.3,702.1 488.4,703.2 489.5,704.4 490.7,705.6 491.8,706.7 492.9,707.9 494.0,709.1 495.1,710.3 496.2,711.5 497.3,712.7 498.5,714.0 499.6,715.2 500.7,716.4 501.8,717.6 502.9,718.8 504.0,720.1 505.1,721.3 506.3,722.5 507.4,723.6 508.6,724.8 509.7,725.9 510.9,727.1 512.1,728.2 513.3,729.3 514.5,730.3 515.7,731.3 517.0,732.3 518.3,733.3 519.6,734.3 520.9,735.2 522.2,736.0 523.6,736.8 524.9,737.5 526.3,738.1 527.6,738.6 529.0,738.8 530.3,738.8 531.5,738.5 532.7,737.9 533.9,736.9 535.0,735.6 536.0,734.0 536.9,732.3 537.8,730.5 538.6,728.7 539.3,726.9 540.0,725.2 540.7,723.6 541.4,722.0 542.1,720.5 542.8,719.0 543.5,717.6 544.3,716.3 545.1,714.9 545.9,713.6 546.7,712.4 547.6,711.1 548.5,709.9 549.4,708.6 550.4,707.4 551.4,706.2 552.4,705.0 553.5,703.8 554.6,702.6 555.7,701.4 556.9,700.2 558.0,699.1 559.2,697.9 560.4,696.8 561.6,695.7 562.8,694.6 564.0,693.5 565.2,692.5 566.4,691.4 567.6,690.4 568.9,689.3 570.1,688.3 571.4,687.3 572.6,686.3 573.9,685.3 575.2,684.4 576.4,683.4 577.7,682.4 579.0,681.4 580.3,680.5 581.6,679.5 582.9,678.6 584.1,677.6 585.4,676.6 586.7,675.7 588.0,674.7 589.3,673.8 590.6,672.8 591.9,671.8 593.2,670.9 594.6,669.9 595.9,669.0 597.2,668.1 598.5,667.2 599.9,666.3 601.2,665.4 602.5,664.5 603.9,663.7 605.3,662.9 606.6,662.1 608.0,661.3 609.4,660.5 610.8,659.8 612.2,659.1 613.7,658.4 615.1,657.8 616.6,657.2 618.0,656.6 619.5,656.1 621.0,655.6 622.5,655.2 624.1,654.8 625.6,654.4 627.2,654.1 628.8,653.8 630.4,653.6 632.0,653.4 633.6,653.3 635.3,653.2 637.0,653.2 638.7,653.2 640.4,653.3 642.1,653.5" stroke="#2B22DA" stroke-width="2.4" fill="none" stroke-linejoin="round"/>
<path d="M415.6,639.4L416.5,640.7 417.3,642.1 418.2,643.5 419.0,644.8 419.9,646.2 420.8,647.5 421.7,648.9 422.6,650.2 423.5,651.6 424.5,652.9 425.4,654.2 426.4,655.5 427.4,656.7 428.4,658.0 429.5,659.2 430.5,660.4 431.6,661.6 432.7,662.7 433.9,663.9 435.0,665.0 436.2,666.0 437.4,667.1 438.7,668.1 439.9,669.0 441.2,670.0 442.6,670.9 443.9,671.7 445.3,672.5 446.7,673.3 448.1,674.1 449.6,674.8 451.0,675.5 452.5,676.2 454.0,676.9 455.5,677.5 457.0,678.2 458.5,678.8 460.0,679.5 461.5,680.1 463.0,680.8 464.5,681.4 466.0,682.1 467.5,682.7 469.0,683.4 470.4,684.1 471.9,684.8 473.3,685.6 474.7,686.3 476.1,687.1 477.4,688.0 478.8,688.8 480.1,689.6 481.4,690.5 482.7,691.4 484.0,692.4 485.2,693.3 486.5,694.3 487.7,695.3 488.9,696.3 490.1,697.3 491.3,698.4 492.5,699.5 493.6,700.6 494.7,701.7 495.9,702.8 497.0,704.0 498.0,705.2 499.1,706.4 500.2,707.6 501.2,708.9 502.3,710.1 503.3,711.4 504.3,712.7 505.3,714.0 506.3,715.4 507.3,716.7 508.3,718.1 509.3,719.5 510.3,720.8 511.3,722.1 512.4,723.5 513.5,724.7 514.6,726.0 515.7,727.2 516.9,728.3 518.2,729.5 519.5,730.5 520.9,731.5 522.3,732.3 523.8,733.1 525.2,733.7 526.6,734.2 528.0,734.4 529.4,734.5 530.7,734.3 531.9,733.9 533.0,733.3 534.1,732.5 535.1,731.6 536.0,730.4 536.9,729.2 537.8,727.8 538.6,726.3 539.3,724.7 540.0,723.1 540.7,721.4 541.3,719.6 541.9,717.9 542.5,716.2 543.1,714.5 543.6,712.8 544.1,711.1 544.6,709.5 545.1,707.8 545.6,706.2 546.1,704.6 546.6,703.1 547.1,701.5 547.5,700.0 548.0,698.4 548.6,696.9 549.1,695.4 549.6,694.0 550.2,692.5 550.8,691.1 551.4,689.7 552.0,688.3 552.7,686.9 553.4,685.5 554.1,684.2 554.9,682.8 555.6,681.5 556.4,680.2 557.3,678.9 558.1,677.6 559.0,676.3 559.9,675.0 560.8,673.8 561.7,672.5 562.7,671.2 563.7,670.0 564.6,668.7 565.6,667.5 566.7,666.2 567.7,665.0 568.7,663.8 569.8,662.5 570.8,661.3 571.9,660.0 572.9,658.8 574.0,657.5 575.1,656.3 576.2,655.0 577.3,653.8 578.4,652.5 579.5,651.2 580.6,650.0 581.7,648.7 582.8,647.4 583.9,646.2 585.1,645.0 586.2,643.7 587.3,642.5 588.5,641.3 589.7,640.1 590.8,638.9 592.0,637.8 593.2,636.7 594.4,635.5 595.6,634.5 596.9,633.4 598.1,632.4 599.3,631.3 600.6,630.4 601.9,629.4 603.2,628.5 604.5,627.6 605.8,626.8 607.1,626.0 608.4,625.2 609.8,624.5 611.1,623.8 612.5,623.2 613.9,622.6 615.3,622.1 616.8,621.6 618.2,621.2 619.7,620.8 621.2,620.5 622.7,620.2 624.2,620.0 625.7,619.8 627.3,619.8 628.9,619.7 630.5,619.8 632.1,619.9 633.7,620.1 635.4,620.3 637.1,620.7 638.8,621.1 640.5,621.5 642.2,622.1" stroke="#2B22DA" stroke-width="2.4" fill="none" stroke-linejoin="round" stroke-dasharray="5.1 2.5"/>
<path d="M415.7,603.1L416.5,604.4 417.4,605.8 418.3,607.2 419.2,608.5 420.1,609.8 421.0,611.2 422.0,612.5 422.9,613.8 423.9,615.0 424.9,616.3 425.9,617.5 427.0,618.8 428.0,620.0 429.1,621.2 430.1,622.4 431.2,623.6 432.3,624.8 433.4,626.0 434.5,627.2 435.6,628.3 436.8,629.5 437.9,630.6 439.0,631.8 440.2,632.9 441.3,634.0 442.5,635.1 443.7,636.2 444.9,637.4 446.0,638.5 447.2,639.6 448.4,640.7 449.6,641.8 450.8,642.9 452.0,643.9 453.2,645.0 454.4,646.1 455.6,647.2 456.8,648.3 458.0,649.4 459.2,650.5 460.4,651.6 461.6,652.6 462.8,653.7 463.9,654.8 465.1,655.9 466.3,657.0 467.5,658.1 468.7,659.2 469.8,660.4 471.0,661.5 472.1,662.6 473.3,663.7 474.4,664.9 475.5,666.0 476.6,667.1 477.7,668.3 478.8,669.5 479.9,670.6 481.0,671.8 482.1,673.0 483.1,674.2 484.2,675.4 485.2,676.6 486.2,677.8 487.2,679.1 488.2,680.3 489.2,681.6 490.2,682.8 491.1,684.1 492.1,685.4 493.0,686.6 494.0,687.9 494.9,689.2 495.9,690.5 496.8,691.8 497.7,693.1 498.7,694.4 499.6,695.8 500.5,697.1 501.4,698.4 502.3,699.8 503.2,701.1 504.2,702.4 505.1,703.8 506.0,705.1 506.9,706.5 507.8,707.8 508.7,709.2 509.7,710.5 510.6,711.9 511.5,713.3 512.5,714.6 513.4,716.0 514.4,717.3 515.5,718.7 516.6,720.0 517.7,721.4 519.0,722.7 520.3,724.1 521.8,725.4 523.3,726.5 524.7,727.5 526.2,728.1 527.5,728.4 528.8,728.3 530.0,727.9 531.1,727.3 532.2,726.4 533.2,725.4 534.1,724.2 535.0,722.9 535.9,721.5 536.7,720.2 537.5,718.8 538.3,717.4 539.0,716.0 539.7,714.5 540.4,713.1 541.0,711.6 541.7,710.1 542.3,708.6 542.9,707.1 543.4,705.6 544.0,704.1 544.5,702.5 545.1,701.0 545.6,699.5 546.1,697.9 546.6,696.4 547.2,694.8 547.7,693.3 548.2,691.7 548.7,690.1 549.2,688.6 549.7,687.0 550.2,685.5 550.8,684.0 551.3,682.4 551.9,680.9 552.5,679.4 553.0,677.9 553.7,676.4 554.3,674.9 554.9,673.4 555.6,672.0 556.3,670.5 557.0,669.0 557.7,667.6 558.4,666.2 559.1,664.8 559.9,663.3 560.6,661.9 561.4,660.5 562.2,659.1 563.0,657.7 563.8,656.4 564.6,655.0 565.5,653.6 566.3,652.2 567.1,650.9 568.0,649.5 568.8,648.1 569.7,646.8 570.5,645.4 571.4,644.1 572.3,642.7 573.2,641.3 574.0,640.0 574.9,638.6 575.8,637.3 576.7,635.9 577.6,634.6 578.4,633.2 579.3,631.9 580.2,630.5 581.1,629.2 582.0,627.9 582.9,626.5 583.9,625.2 584.8,623.9 585.7,622.6 586.7,621.3 587.7,620.1 588.7,618.8 589.7,617.6 590.7,616.4 591.8,615.2 592.9,614.0 594.0,612.8 595.1,611.7 596.3,610.6 597.5,609.5 598.7,608.5 599.9,607.5 601.2,606.5 602.5,605.5 603.9,604.6 605.3,603.7 606.7,602.9 608.2,602.1 609.7,601.3 611.2,600.7 612.7,600.1 614.3,599.6 615.9,599.3 617.4,599.1 619.0,599.0 620.5,599.1 622.1,599.4 623.6,599.7 625.1,600.2 626.7,600.8 628.2,601.5 629.7,602.2 631.2,602.9 632.8,603.6 634.3,604.2 635.8,604.8 637.4,605.3 638.9,605.7 640.5,605.9 642.1,606.0" stroke="#F50A0A" stroke-width="2.4" fill="none" stroke-linejoin="round"/>
<path d="M415.6,607.5L416.2,609.0 416.8,610.5 417.4,611.9 418.1,613.4 418.7,614.9 419.4,616.3 420.1,617.7 420.7,619.2 421.4,620.6 422.2,622.1 422.9,623.5 423.6,624.9 424.4,626.3 425.1,627.7 425.9,629.2 426.7,630.6 427.5,632.0 428.3,633.4 429.1,634.7 430.0,636.1 430.8,637.5 431.7,638.9 432.5,640.3 433.4,641.6 434.3,643.0 435.1,644.4 436.0,645.7 436.9,647.1 437.9,648.4 438.8,649.7 439.7,651.1 440.6,652.4 441.6,653.7 442.5,655.0 443.5,656.4 444.5,657.7 445.4,659.0 446.4,660.3 447.4,661.6 448.4,662.8 449.4,664.1 450.4,665.4 451.4,666.7 452.4,668.0 453.4,669.2 454.4,670.5 455.4,671.7 456.5,673.0 457.5,674.2 458.5,675.5 459.6,676.7 460.6,677.9 461.7,679.1 462.7,680.4 463.7,681.6 464.8,682.8 465.8,684.0 466.9,685.2 467.9,686.4 469.0,687.5 470.1,688.7 471.1,689.9 472.2,691.1 473.2,692.2 474.3,693.4 475.3,694.6 476.4,695.7 477.5,696.9 478.5,698.0 479.6,699.2 480.7,700.3 481.8,701.5 482.8,702.6 483.9,703.8 485.0,704.9 486.1,706.1 487.2,707.2 488.3,708.4 489.4,709.5 490.5,710.7 491.6,711.9 492.8,713.0 493.9,714.2 495.0,715.4 496.2,716.6 497.3,717.8 498.5,719.0 499.7,720.2 500.8,721.4 502.0,722.6 503.2,723.8 504.4,725.1 505.6,726.3 506.9,727.6 508.1,728.8 509.3,730.1 510.6,731.3 511.9,732.5 513.2,733.6 514.5,734.6 515.8,735.6 517.2,736.5 518.5,737.3 519.9,738.0 521.3,738.6 522.8,739.0 524.2,739.3 525.7,739.5 527.1,739.5 528.5,739.4 529.9,739.1 531.2,738.6 532.4,738.0 533.5,737.2 534.6,736.2 535.6,735.1 536.5,733.8 537.4,732.4 538.1,730.9 538.8,729.4 539.5,727.8 540.1,726.1 540.7,724.4 541.2,722.8 541.8,721.1 542.3,719.4 542.8,717.7 543.3,716.0 543.8,714.3 544.3,712.7 544.8,711.1 545.4,709.6 545.9,708.0 546.5,706.5 547.1,705.0 547.7,703.6 548.4,702.1 549.0,700.7 549.6,699.3 550.3,697.8 551.0,696.4 551.7,695.0 552.4,693.6 553.1,692.3 553.8,690.9 554.5,689.5 555.2,688.1 556.0,686.7 556.7,685.2 557.5,683.8 558.2,682.4 559.0,681.0 559.8,679.6 560.6,678.2 561.4,676.8 562.2,675.4 563.0,674.0 563.8,672.6 564.6,671.2 565.4,669.8 566.3,668.4 567.1,667.0 568.0,665.6 568.8,664.2 569.7,662.8 570.6,661.4 571.4,660.1 572.3,658.7 573.2,657.3 574.1,656.0 575.0,654.7 575.9,653.3 576.8,652.0 577.7,650.7 578.6,649.4 579.5,648.1 580.4,646.8 581.4,645.5 582.3,644.3 583.2,643.0 584.2,641.8 585.2,640.5 586.2,639.3 587.2,638.1 588.2,636.9 589.3,635.6 590.3,634.4 591.4,633.2 592.6,632.0 593.7,630.8 594.9,629.6 596.1,628.5 597.4,627.3 598.6,626.1 599.9,624.9 601.3,623.8 602.7,622.8 604.0,621.8 605.5,620.9 606.9,620.1 608.3,619.4 609.8,618.8 611.2,618.3 612.7,618.0 614.2,617.8 615.6,617.8 617.1,617.9 618.6,618.1 620.1,618.5 621.5,619.0 623.0,619.5 624.4,620.2 625.8,621.0 627.2,621.9 628.6,622.9 630.0,623.9 631.4,625.0 632.7,626.1 634.1,627.2 635.4,628.3 636.7,629.3 638.1,630.2 639.4,631.1 640.7,631.9 642.1,632.5" stroke="#F50A0A" stroke-width="2.4" fill="none" stroke-linejoin="round" stroke-dasharray="5.1 2.5"/>
<path d="M415.6,638.1L417.0,637.3 418.5,636.5 420.0,635.6 421.6,634.8 423.2,634.0 424.7,633.3 426.3,632.7 427.9,632.3 429.4,632.0 430.9,632.0 432.4,632.2 433.8,632.7 435.2,633.2 436.5,634.0 437.9,634.8 439.2,635.6 440.5,636.6 441.7,637.5 443.0,638.5 444.2,639.5 445.5,640.5 446.7,641.5 447.9,642.6 449.1,643.7 450.2,644.8 451.4,645.9 452.5,647.0 453.7,648.1 454.8,649.3 455.9,650.5 457.0,651.6 458.2,652.8 459.2,654.0 460.3,655.2 461.4,656.5 462.5,657.7 463.6,658.9 464.6,660.2 465.7,661.4 466.7,662.6 467.8,663.9 468.9,665.1 469.9,666.4 470.9,667.6 472.0,668.9 473.0,670.1 474.1,671.4 475.1,672.6 476.1,673.8 477.2,675.1 478.2,676.3 479.2,677.6 480.2,678.8 481.3,680.1 482.3,681.3 483.3,682.6 484.3,683.8 485.3,685.1 486.3,686.3 487.2,687.6 488.2,688.9 489.2,690.1 490.1,691.4 491.1,692.7 492.0,693.9 493.0,695.2 493.9,696.5 494.8,697.8 495.7,699.1 496.7,700.4 497.5,701.7 498.4,703.0 499.3,704.3 500.2,705.6 501.0,707.0 501.9,708.3 502.7,709.7 503.5,711.0 504.3,712.4 505.1,713.7 505.9,715.1 506.7,716.5 507.5,717.8 508.3,719.2 509.1,720.6 509.9,722.0 510.7,723.4 511.6,724.8 512.5,726.2 513.4,727.6 514.3,729.0 515.3,730.4 516.3,731.8 517.3,733.2 518.4,734.6 519.6,736.0 520.8,737.3 522.0,738.6 523.3,739.8 524.6,740.9 525.9,741.8 527.2,742.6 528.5,743.1 529.9,743.5 531.2,743.6 532.4,743.4 533.7,742.9 534.9,742.3 536.1,741.4 537.1,740.3 538.1,739.1 539.0,737.8 539.9,736.4 540.6,734.8 541.3,733.2 542.0,731.6 542.6,729.9 543.2,728.2 543.8,726.6 544.4,724.9 545.1,723.3 545.7,721.8 546.4,720.2 547.1,718.7 547.8,717.3 548.5,715.8 549.2,714.4 550.0,713.0 550.7,711.6 551.5,710.3 552.3,708.9 553.0,707.6 553.8,706.2 554.6,704.9 555.4,703.5 556.2,702.2 557.0,700.8 557.8,699.5 558.7,698.1 559.5,696.8 560.3,695.4 561.2,694.1 562.0,692.7 562.9,691.4 563.7,690.1 564.6,688.7 565.5,687.4 566.4,686.0 567.3,684.7 568.2,683.4 569.1,682.0 570.0,680.7 570.9,679.4 571.8,678.1 572.7,676.7 573.7,675.4 574.6,674.1 575.5,672.8 576.5,671.4 577.5,670.1 578.4,668.8 579.4,667.5 580.4,666.2 581.4,664.9 582.4,663.6 583.4,662.3 584.4,661.0 585.4,659.7 586.5,658.5 587.5,657.2 588.6,656.0 589.7,654.8 590.8,653.6 591.9,652.4 593.0,651.3 594.2,650.1 595.3,649.0 596.5,648.0 597.7,646.9 598.9,645.9 600.1,644.9 601.4,643.9 602.7,643.0 604.0,642.1 605.3,641.2 606.6,640.4 608.0,639.6 609.4,638.9 610.8,638.2 612.3,637.5 613.7,636.9 615.2,636.3 616.7,635.8 618.2,635.3 619.8,634.9 621.3,634.5 622.9,634.2 624.4,633.9 626.0,633.7 627.6,633.5 629.2,633.4 630.8,633.3 632.4,633.3 634.0,633.3 635.6,633.4 637.3,633.6 638.9,633.8 640.5,634.1 642.1,634.5" stroke="#000" stroke-width="2.4" fill="none" stroke-linejoin="round"/></g>
<g><rect x="2" y="2" width="681" height="27" fill="none" stroke="#000" stroke-width="2"/>
<path d="M5.3,19.0 H40.1" stroke="#2B22DA" stroke-width="2.4"/>
<text x="46.5" y="23.0" font-size="15.2" textLength="67.1" lengthAdjust="spacingAndGlyphs">Control Pre</text>
<path d="M134.4,19.1 H170.1" stroke="#2B22DA" stroke-width="2.4" stroke-dasharray="5.6 2.45"/>
<text x="174.9" y="23.0" font-size="15.2" textLength="77.8" lengthAdjust="spacingAndGlyphs">Control Post</text>
<path d="M266.6,18.9 H301.2" stroke="#F50A0A" stroke-width="2.4"/>
<text x="306.0" y="23.0" font-size="15.2" textLength="99.2" lengthAdjust="spacingAndGlyphs">Intervention Pre</text>
<path d="M415.7,19.0 H451.0" stroke="#F50A0A" stroke-width="2.4" stroke-dasharray="5.6 2.45"/>
<text x="454.0" y="23.0" font-size="15.2" textLength="105.7" lengthAdjust="spacingAndGlyphs">Intervention Post</text>
<path d="M567.3,18.8 H601.0" stroke="#000" stroke-width="2.4"/>
<text x="603.4" y="21.1" font-size="15.2" textLength="71.7" lengthAdjust="spacingAndGlyphs">Able-bodied</text></g>
</svg>
</body></html>
